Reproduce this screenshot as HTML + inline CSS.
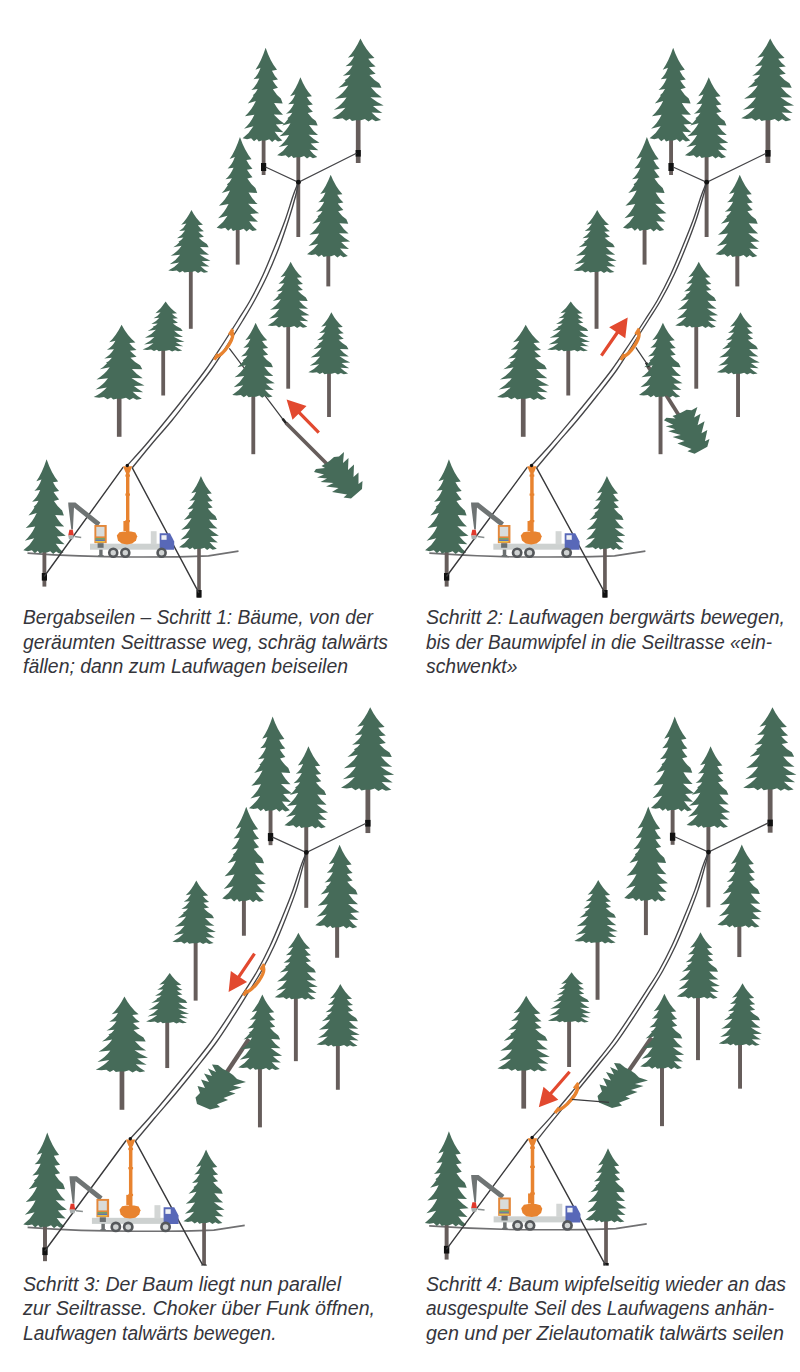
<!DOCTYPE html>
<html lang="de">
<head>
<meta charset="utf-8">
<title>Bergabseilen – Schritte 1 bis 4</title>
<style>
html,body{margin:0;padding:0;background:#fff}
body{width:800px;height:1372px;overflow:hidden}
svg{display:block}
svg text{font-family:"Liberation Sans",sans-serif;font-style:italic;font-size:20px;fill:#35353b}
</style>
</head>
<body>
<svg width="800" height="1372" viewBox="0 0 800 1372">
<rect width="800" height="1372" fill="#fff"/>
<path d="M27.5 553.2Q80 557 130 557 Q185 557 208.5 555.8 L238.5 551.2" fill="none" stroke="#707072" stroke-width="1.7"/><rect x="261.71" y="137.9" width="3.79" height="37.1" fill="#665d5b"/><rect x="261" y="163" width="5.2" height="8" fill="#111"/><path d="M265.63 47.7Q270.2 61.3 277.02 69.86L271.94 70.67Q274.7 76.41 277.97 79.44L272.52 80.44Q275.43 84.98 277.97 87.8L272.89 89.21Q276.52 95.05 280.87 98.58L282.69 103.62L274.12 103.11Q278.33 110.67 283.05 114.7L273.76 114.4Q279.06 120.24 284.5 123.77L275.79 124.47Q279.78 129.31 283.41 132.33L274.7 131.83Q278.33 137.37 282.32 140.39L277.97 141.6L275.06 139.58L272.16 141.9L269.26 139.18L265.99 140.59L261.64 140.59L258.73 141.4L256.92 138.88L254.01 141.19L251.11 138.37L247.12 139.18L242.62 138.37Q249.3 133.34 253.43 126.28L244.07 128.8Q250.38 123.26 254.38 114.7L244.94 116.21Q251.84 110.16 255.83 101.1L247.7 103.62Q250.75 100.59 253.65 95.86L252.78 95.25Q255.83 93.04 257.64 89.01L251.33 90.01Q256.19 85.98 259.31 78.43L253.51 79.13Q258.01 75.41 260.55 67.85L255.47 69.66Q261.27 61.3 265.63 47.7Z" fill="#466b59"/><rect x="355.86" y="117.4" width="4.67" height="45.6" fill="#665d5b"/><rect x="355.6" y="150" width="5.2" height="6.6" fill="#111"/><path d="M360.43 38.5Q366.07 50.47 374.48 58.01L368.22 58.72Q371.62 63.77 375.65 66.43L368.94 67.32Q372.51 71.31 375.65 73.79L369.38 75.03Q373.86 80.17 379.23 83.27L381.46 87.71L370.9 87.26Q376.09 93.91 381.91 97.46L370.46 97.19Q376.99 102.34 383.7 105.44L372.96 106.06Q377.88 110.32 382.36 112.98L371.62 112.53Q376.09 117.41 381.02 120.07L375.65 121.13L372.07 119.36L368.49 121.4L364.91 119.01L360.88 120.25L355.51 120.25L351.93 120.96L349.7 118.74L346.12 120.78L342.54 118.3L337.62 119.01L332.07 118.3Q340.3 113.86 345.4 107.66L333.86 109.87Q341.64 105 346.56 97.46L334.93 98.79Q343.43 93.47 348.35 85.49L338.33 87.71Q342.09 85.05 345.67 80.88L344.6 80.35Q348.35 78.4 350.59 74.85L342.81 75.74Q348.8 72.19 352.65 65.54L345.49 66.16Q351.04 62.88 354.17 56.23L347.91 57.83Q355.07 50.47 360.43 38.5Z" fill="#466b59"/><rect x="296.38" y="154.4" width="3.83" height="82.6" fill="#665d5b"/><path d="M300.4 77.2Q305.03 88.92 311.93 96.31L306.79 97Q309.58 101.95 312.89 104.56L307.38 105.42Q310.32 109.33 312.89 111.76L307.75 112.98Q311.42 118.02 315.83 121.06L317.66 125.4L309 124.96Q313.26 131.48 318.03 134.95L308.63 134.69Q313.99 139.73 319.5 142.77L310.69 143.38Q314.73 147.54 318.4 150.15L309.58 149.72Q313.26 154.49 317.3 157.1L312.89 158.14L309.95 156.4L307.01 158.4L304.08 156.06L300.77 157.27L296.36 157.27L293.43 157.97L291.59 155.79L288.65 157.79L285.71 155.36L281.67 156.06L277.12 155.36Q283.88 151.02 288.06 144.94L278.59 147.11Q284.98 142.33 289.02 134.95L279.47 136.25Q286.45 131.04 290.49 123.23L282.26 125.4Q285.35 122.79 288.28 118.71L287.4 118.19Q290.49 116.28 292.32 112.81L285.93 113.67Q290.86 110.2 294.01 103.69L288.14 104.3Q292.69 101.08 295.26 94.57L290.12 96.13Q296 88.92 300.4 77.2Z" fill="#466b59"/><rect x="235.78" y="227.4" width="3.84" height="37.2" fill="#665d5b"/><path d="M239.96 136.9Q244.6 150.54 251.52 159.14L246.36 159.94Q249.16 165.7 252.47 168.74L246.95 169.75Q249.9 174.3 252.47 177.13L247.32 178.54Q251 184.4 255.42 187.94L257.26 192.99L248.57 192.49Q252.84 200.07 257.63 204.11L248.2 203.81Q253.58 209.67 259.1 213.21L250.27 213.91Q254.31 218.77 258 221.8L249.16 221.29Q252.84 226.85 256.89 229.88L252.47 231.1L249.53 229.08L246.58 231.4L243.64 228.67L240.33 230.09L235.91 230.09L232.96 230.89L231.12 228.37L228.18 230.69L225.23 227.86L221.19 228.67L216.62 227.86Q223.39 222.81 227.59 215.73L218.09 218.26Q224.5 212.7 228.55 204.11L218.98 205.63Q225.97 199.56 230.02 190.47L221.77 192.99Q224.87 189.96 227.81 185.21L226.93 184.6Q230.02 182.38 231.86 178.34L225.46 179.35Q230.39 175.31 233.55 167.73L227.66 168.43Q232.23 164.69 234.81 157.11L229.65 158.93Q235.54 150.54 239.96 136.9Z" fill="#466b59"/><rect x="326.35" y="253.4" width="3.9" height="33" fill="#665d5b"/><path d="M330.69 174.7Q335.39 186.64 342.41 194.16L337.18 194.87Q340.02 199.91 343.38 202.56L337.78 203.45Q340.77 207.43 343.38 209.9L338.16 211.14Q341.89 216.27 346.37 219.37L348.23 223.79L339.42 223.35Q343.75 229.98 348.61 233.52L339.05 233.25Q344.5 238.38 350.1 241.48L341.14 242.1Q345.25 246.34 348.98 249L340.02 248.56Q343.75 253.42 347.86 256.07L343.38 257.13L340.39 255.37L337.41 257.4L334.42 255.01L331.06 256.25L326.58 256.25L323.6 256.96L321.73 254.75L318.74 256.78L315.76 254.3L311.65 255.01L307.02 254.3Q313.89 249.88 318.15 243.69L308.52 245.9Q315.01 241.04 319.12 233.52L309.41 234.85Q316.51 229.54 320.61 221.58L312.25 223.79Q315.39 221.14 318.37 216.98L317.48 216.45Q320.61 214.5 322.48 210.96L315.98 211.85Q320.98 208.31 324.19 201.68L318.22 202.3Q322.85 199.02 325.46 192.39L320.24 193.98Q326.21 186.64 330.69 174.7Z" fill="#466b59"/><rect x="188.89" y="268.9" width="3.82" height="59.9" fill="#665d5b"/><path d="M191.45 210Q196.06 219.08 202.95 224.8L197.82 225.34Q200.61 229.17 203.91 231.19L198.41 231.86Q201.34 234.89 203.91 236.77L198.78 237.72Q202.44 241.62 206.84 243.97L208.67 247.34L200.02 247Q204.27 252.05 209.03 254.74L199.66 254.53Q205 258.44 210.5 260.79L201.71 261.26Q205.74 264.49 209.4 266.51L200.61 266.17Q204.27 269.87 208.3 271.89L203.91 272.7L200.97 271.35L198.04 272.9L195.11 271.08L191.81 272.03L187.42 272.03L184.49 272.56L182.66 270.88L179.72 272.43L176.79 270.55L172.76 271.08L168.22 270.55Q174.96 267.18 179.14 262.47L169.69 264.15Q176.06 260.45 180.09 254.74L170.56 255.75Q177.53 251.71 181.56 245.65L173.35 247.34Q176.43 245.32 179.36 242.16L178.48 241.75Q181.56 240.27 183.39 237.58L177.01 238.25Q181.92 235.56 185.07 230.52L179.21 230.99Q183.75 228.5 186.32 223.45L181.19 224.67Q187.05 219.08 191.45 210Z" fill="#466b59"/><rect x="286.31" y="323.9" width="3.79" height="64.8" fill="#665d5b"/><path d="M290.63 261.7Q295.2 271.26 302.02 277.28L296.94 277.84Q299.7 281.88 302.97 284L297.52 284.71Q300.43 287.9 302.97 289.88L297.89 290.87Q301.52 294.98 305.87 297.46L307.69 301L299.12 300.64Q303.33 305.95 308.05 308.78L298.76 308.57Q304.06 312.68 309.5 315.16L300.79 315.65Q304.78 319.05 308.41 321.17L299.7 320.82Q303.33 324.71 307.32 326.84L302.97 327.69L300.06 326.27L297.16 327.9L294.26 325.99L290.99 326.98L286.64 326.98L283.73 327.55L281.92 325.78L279.01 327.4L276.11 325.42L272.12 325.99L267.62 325.42Q274.3 321.88 278.43 316.93L269.07 318.7Q275.38 314.8 279.38 308.78L269.94 309.85Q276.84 305.6 280.83 299.23L272.7 301Q275.75 298.87 278.65 295.54L277.78 295.12Q280.83 293.56 282.64 290.73L276.33 291.44Q281.19 288.6 284.31 283.29L278.51 283.79Q283.01 281.17 285.55 275.86L280.47 277.13Q286.27 271.26 290.63 261.7Z" fill="#466b59"/><rect x="327.1" y="370.5" width="3.8" height="46.5" fill="#665d5b"/><path d="M331.38 312.3Q335.97 321.28 342.81 326.94L337.71 327.47Q340.48 331.26 343.75 333.26L338.29 333.92Q341.21 336.91 343.75 338.78L338.66 339.71Q342.3 343.57 346.66 345.89L348.48 349.22L339.9 348.89Q344.12 353.88 348.84 356.54L339.53 356.34Q344.84 360.2 350.3 362.53L341.57 362.99Q345.57 366.18 349.21 368.18L340.48 367.85Q344.12 371.51 348.12 373.5L343.75 374.3L340.84 372.97L337.93 374.5L335.02 372.7L331.75 373.64L327.38 373.64L324.47 374.17L322.65 372.5L319.74 374.03L316.83 372.17L312.83 372.7L308.32 372.17Q315.01 368.85 319.16 364.19L309.77 365.85Q316.1 362.19 320.11 356.54L310.65 357.54Q317.56 353.54 321.56 347.56L313.41 349.22Q316.47 347.23 319.38 344.1L318.5 343.7Q321.56 342.24 323.38 339.57L317.05 340.24Q321.92 337.58 325.05 332.59L319.23 333.06Q323.74 330.59 326.29 325.6L321.2 326.8Q327.02 321.28 331.38 312.3Z" fill="#466b59"/><rect x="161.31" y="347.4" width="3.79" height="48.1" fill="#665d5b"/><path d="M165.63 301.5Q170.2 308.7 177.02 313.24L171.94 313.67Q174.7 316.71 177.97 318.31L172.52 318.84Q175.43 321.25 177.97 322.74L172.89 323.49Q176.52 326.58 180.87 328.45L182.69 331.12L174.12 330.85Q178.33 334.86 183.05 336.99L173.76 336.83Q179.06 339.93 184.5 341.79L175.79 342.17Q179.78 344.73 183.41 346.33L174.7 346.06Q178.33 349 182.32 350.6L177.97 351.24L175.06 350.17L172.16 351.4L169.26 349.96L165.99 350.71L161.64 350.71L158.73 351.13L156.92 349.8L154.01 351.03L151.11 349.53L147.12 349.96L142.62 349.53Q149.3 346.86 153.43 343.13L144.07 344.46Q150.38 341.53 154.38 336.99L144.94 337.79Q151.84 334.59 155.83 329.79L147.7 331.12Q150.75 329.52 153.65 327.01L152.78 326.69Q155.83 325.52 157.64 323.38L151.33 323.91Q156.19 321.78 159.31 317.78L153.51 318.15Q158.01 316.18 160.55 312.17L155.47 313.13Q161.27 308.7 165.63 301.5Z" fill="#466b59"/><rect x="116.9" y="395.9" width="4.6" height="40.9" fill="#665d5b"/><path d="M121.59 324.7Q127.14 335.56 135.43 342.39L129.26 343.04Q132.61 347.62 136.57 350.03L129.96 350.84Q133.49 354.46 136.57 356.71L130.4 357.84Q134.81 362.5 140.09 365.32L142.3 369.34L131.9 368.94Q137.01 374.97 142.74 378.18L131.46 377.94Q137.89 382.61 144.5 385.42L133.93 385.99Q138.77 389.85 143.18 392.26L132.61 391.86Q137.01 396.28 141.86 398.69L136.57 399.66L133.05 398.05L129.52 399.9L126 397.73L122.03 398.85L116.75 398.85L113.22 399.5L111.02 397.49L107.5 399.34L103.97 397.09L99.13 397.73L93.66 397.09Q101.77 393.06 106.79 387.43L95.43 389.44Q103.09 385.02 107.94 378.18L96.48 379.39Q104.85 374.57 109.7 367.33L99.83 369.34Q103.53 366.92 107.06 363.14L106 362.66Q109.7 360.89 111.9 357.68L104.24 358.48Q110.14 355.26 113.93 349.23L106.88 349.79Q112.34 346.82 115.43 340.79L109.26 342.23Q116.31 335.56 121.59 324.7Z" fill="#466b59"/><path d="M229.3 348.3L283.7 420.3" stroke="#3b3b3d" stroke-width="1.2" fill="none" stroke-linecap="butt"/><rect x="251.37" y="393.7" width="3.85" height="60.5" fill="#665d5b"/><path d="M255.61 322.7Q260.26 333.53 267.2 340.35L262.03 340.99Q264.84 345.56 268.16 347.97L262.62 348.77Q265.58 352.38 268.16 354.63L262.99 355.75Q266.68 360.4 271.11 363.21L272.96 367.22L264.25 366.82Q268.53 372.83 273.32 376.04L263.88 375.8Q269.27 380.45 274.8 383.26L265.94 383.82Q270 387.67 273.69 390.08L264.84 389.68Q268.53 394.09 272.59 396.5L268.16 397.46L265.21 395.86L262.26 397.7L259.3 395.53L255.98 396.66L251.56 396.66L248.6 397.3L246.76 395.29L243.81 397.14L240.86 394.89L236.8 395.53L232.22 394.89Q239.01 390.88 243.22 385.27L233.7 387.27Q240.12 382.86 244.18 376.04L234.58 377.25Q241.59 372.43 245.65 365.21L237.39 367.22Q240.49 364.81 243.44 361.04L242.55 360.56Q245.65 358.8 247.5 355.59L241.08 356.39Q246.02 353.18 249.19 347.17L243.29 347.73Q247.87 344.76 250.45 338.74L245.28 340.19Q251.19 333.53 255.61 322.7Z" fill="#466b59"/><rect x="42.48" y="549.9" width="3.83" height="36.7" fill="#665d5b"/><rect x="41.8" y="573" width="5.2" height="7.6" fill="#111"/><path d="M46.6 459.2Q51.23 472.87 58.13 481.48L52.99 482.29Q55.78 488.07 59.09 491.1L53.58 492.12Q56.52 496.67 59.09 499.51L53.95 500.93Q57.62 506.8 62.03 510.35L63.86 515.41L55.2 514.91Q59.46 522.5 64.23 526.55L54.83 526.25Q60.19 532.12 65.7 535.67L56.89 536.38Q60.93 541.24 64.6 544.28L55.78 543.77Q59.46 549.34 63.5 552.38L59.09 553.6L56.15 551.57L53.21 553.9L50.28 551.17L46.97 552.58L42.56 552.58L39.63 553.39L37.79 550.86L34.85 553.19L31.91 550.36L27.87 551.17L23.32 550.36Q30.08 545.29 34.26 538.2L24.79 540.73Q31.18 535.16 35.22 526.55L25.67 528.07Q32.65 522 36.69 512.88L28.46 515.41Q31.55 512.37 34.48 507.61L33.6 507.01Q36.69 504.78 38.52 500.73L32.13 501.74Q37.06 497.69 40.21 490.09L34.34 490.8Q38.89 487.05 41.46 479.46L36.32 481.28Q42.2 472.87 46.6 459.2Z" fill="#466b59"/><rect x="197.2" y="545.9" width="3.61" height="51.7" fill="#665d5b"/><rect x="196.4" y="590" width="5.2" height="7.6" fill="#111"/><path d="M200.92 476.1Q205.28 486.76 211.78 493.46L206.94 494.1Q209.57 498.6 212.68 500.96L207.49 501.75Q210.26 505.3 212.68 507.51L207.84 508.62Q211.29 513.2 215.44 515.96L217.17 519.91L209.01 519.51Q213.02 525.43 217.52 528.59L208.67 528.35Q213.71 532.93 218.9 535.69L210.6 536.25Q214.41 540.03 217.86 542.4L209.57 542.01Q213.02 546.35 216.83 548.72L212.68 549.66L209.91 548.08L207.15 549.9L204.38 547.77L201.27 548.87L197.12 548.87L194.36 549.51L192.63 547.53L189.86 549.35L187.1 547.14L183.29 547.77L179.01 547.14Q185.37 543.19 189.31 537.67L180.39 539.64Q186.41 535.3 190.21 528.59L181.22 529.77Q187.79 525.04 191.59 517.93L183.85 519.91Q186.75 517.54 189.52 513.83L188.69 513.36Q191.59 511.62 193.32 508.46L187.3 509.25Q191.94 506.09 194.91 500.17L189.38 500.73Q193.66 497.81 196.08 491.89L191.24 493.31Q196.78 486.76 200.92 476.1Z" fill="#466b59"/><path d="M298.2 182.6C297.33 184.83 295.17 189.77 293 196C290.83 202.23 288.28 211.42 285.2 220C282.12 228.58 278.2 238.33 274.5 247.5C270.8 256.67 267.02 266.25 263 275C258.98 283.75 254.55 292.5 250.4 300C246.25 307.5 242.8 312.5 238.1 320C233.4 327.5 227.63 336.67 222.2 345C216.77 353.33 211.48 361.67 205.5 370C199.52 378.33 192.83 386.67 186.3 395C179.77 403.33 173.08 411.67 166.3 420C159.52 428.33 152.1 437.43 145.6 445C139.1 452.57 130.35 462 127.3 465.4" fill="none" stroke="#454548" stroke-width="1.35"/><path d="M298.6 182.6C298.1 184.83 297.28 189.77 295.6 196C293.92 202.23 291.27 211.42 288.5 220C285.73 228.58 282.5 238.33 279 247.5C275.5 256.67 271.53 266.25 267.5 275C263.47 283.75 258.87 292.5 254.8 300C250.73 307.5 247.67 312.5 243.1 320C238.53 327.5 232.77 336.67 227.4 345C222.03 353.33 216.85 361.67 210.9 370C204.95 378.33 198.13 386.67 191.7 395C185.27 403.33 179.1 411.67 172.3 420C165.5 428.33 157.53 437.08 150.9 445C144.27 452.92 135.57 463.75 132.5 467.5" fill="none" stroke="#454548" stroke-width="1.35"/><path d="M265.5 167L298.4 182.2L356.5 153.3" fill="none" stroke="#454548" stroke-width="1.25"/><circle cx="298.4" cy="182.2" r="2.4" fill="#111"/><path d="M44.2 576.5L123.2 467.2M132 467.4L198.9 592.8" fill="none" stroke="#38383a" stroke-width="1.4"/><path d="M68.2 502.6L75.4 502.6L100.4 522.6L97.6 526.6L74 507.6L72.9 529.6L71.3 529.6L68.4 506Z" fill="#6f7474"/><path d="M68.2 535.6L69.4 529.8L72.8 529.8L73.8 535.6Z" fill="#e0392c"/><path d="M68.2 535.4L73.8 535.4L73.2 539.2L69 539.2Z" fill="#a9afaf"/><path d="M74.6 536.6L81.2 537.4" stroke="#8a9090" stroke-width="1.5"/><rect x="94.4" y="525" width="12.3" height="18.2" fill="#e3873a"/><rect x="96.3" y="526.9" width="8.2" height="9.5" fill="#d9dcdb"/><rect x="95.4" y="538" width="9.4" height="1.6" fill="#71a56c"/><rect x="95.4" y="539.6" width="9.4" height="1.4" fill="#5a78b6"/><rect x="95.4" y="541" width="9.4" height="1.4" fill="#e8c24a"/><rect x="99.2" y="547" width="3.4" height="9.4" fill="#6b6f70"/><rect x="98.2" y="555" width="5.4" height="1.6" fill="#6b6f70"/><rect x="90" y="543.7" width="70.4" height="6" fill="#cdd1d0"/><rect x="97.6" y="543.2" width="6" height="4.6" fill="#6b6f70"/><rect x="150.8" y="531.2" width="5.8" height="13.2" fill="#d3d6d5"/><path d="M159.7 549.8L159.7 533.2L170 533.2L174.2 541.4L174.2 549.8Z" fill="#5868b8"/><path d="M161.4 535.2L166.6 535.2L166.6 539.8L161.4 539.8Z" fill="#eef0f4"/><ellipse cx="113.25" cy="552.7" rx="5.3" ry="5.3" fill="#55585b"/><ellipse cx="113.25" cy="552.7" rx="2.7" ry="2.7" fill="#d0d3d3"/><ellipse cx="125.3" cy="552.7" rx="5.3" ry="5.3" fill="#55585b"/><ellipse cx="125.3" cy="552.7" rx="2.7" ry="2.7" fill="#d0d3d3"/><ellipse cx="161.6" cy="552.7" rx="5.3" ry="5.3" fill="#55585b"/><ellipse cx="161.6" cy="552.7" rx="2.7" ry="2.7" fill="#d0d3d3"/><rect x="126" y="467" width="3.4" height="67" fill="#e8832f"/><path d="M123 466.2L132.2 466.2L129.8 472.6L125.6 472.6Z" fill="#e8832f"/><rect x="125.4" y="474.5" width="4.6" height="2.2" fill="#e8832f"/><rect x="125.4" y="493.5" width="4.6" height="2.2" fill="#e8832f"/><rect x="125.4" y="520" width="4.6" height="2.2" fill="#e8832f"/><rect x="123.4" y="521" width="3.6" height="10" fill="#e8832f"/><path d="M116.8 535.6L119.4 532.2L124 531.4L131 531.4L135.4 532.6L137.2 536.2L136 540.4L132.2 543.6L127 544.4L121.6 543.6L118 540.4Z" fill="#e8832f"/><circle cx="127.3" cy="465.5" r="1.7" fill="#111"/><path d="M231 331C236.75 336.2 224.34 354.54 215.25 357.25" fill="none" stroke="#e8832f" stroke-width="3.4" stroke-linecap="butt"/><path d="M232.85 329.08L229.35 334.91" stroke="#e8832f" stroke-width="3.2" stroke-linecap="butt"/><path d="M214.43 359.79L217.93 353.96" stroke="#e8832f" stroke-width="3.2" stroke-linecap="butt"/><path d="M282.6 418.8L286.4 423.6" stroke="#222" stroke-width="2.6" fill="none" stroke-linecap="butt"/><path d="M286 423L328.5 465.5" stroke="#665d5b" stroke-width="3.8" fill="none" stroke-linecap="butt"/><polygon points="326.5,463 330,460.5 334,457 339,456.5 344,452 343,463 348.5,458 348,470 354,464.5 353.5,477 358.5,472.5 358.5,484 362.5,481 362,489 351,498.5 343.5,497.5 347,494.5 332,492 338.5,488 326,486.5 333.5,483 320.5,482 327,478.5 317,477.5 324,474.5 314,472 316,469 325,468 321.5,466" fill="#466b59"/><polygon points="286.6,399.6 306.53,406 300.67,411.72 319.95,431.48 317.65,433.72 298.37,413.96 292.51,419.69" fill="#e2492f"/><path d="M429.35 553.2Q483.1 557 534.29 557 Q590.6 557 614.66 555.8 L645.38 551.2" fill="none" stroke="#707072" stroke-width="1.7"/><rect x="669.13" y="137.9" width="3.88" height="37.1" fill="#665d5b"/><rect x="668.41" y="163" width="5.32" height="8" fill="#111"/><path d="M673.15 47.7Q677.83 61.3 684.82 69.86L679.61 70.67Q682.44 76.41 685.78 79.44L680.21 80.44Q683.18 84.98 685.78 87.8L680.58 89.21Q684.3 95.05 688.76 98.58L690.61 103.62L681.84 103.11Q686.15 110.67 690.98 114.7L681.47 114.4Q686.9 120.24 692.47 123.77L683.55 124.47Q687.64 129.31 691.36 132.33L682.44 131.83Q686.15 137.37 690.24 140.39L685.78 141.6L682.81 139.58L679.84 141.9L676.87 139.18L673.52 140.59L669.06 140.59L666.09 141.4L664.23 138.88L661.26 141.19L658.29 138.37L654.2 139.18L649.59 138.37Q656.43 133.34 660.66 126.28L651.08 128.8Q657.54 123.26 661.63 114.7L651.97 116.21Q659.03 110.16 663.12 101.1L654.79 103.62Q657.92 100.59 660.89 95.86L660 95.25Q663.12 93.04 664.98 89.01L658.51 90.01Q663.49 85.98 666.68 78.43L660.74 79.13Q665.35 75.41 667.95 67.85L662.75 69.66Q668.69 61.3 673.15 47.7Z" fill="#466b59"/><rect x="765.53" y="117.4" width="4.78" height="45.6" fill="#665d5b"/><rect x="765.26" y="150" width="5.32" height="6.6" fill="#111"/><path d="M770.21 38.5Q775.98 50.47 784.6 58.01L778.18 58.72Q781.66 63.77 785.79 66.43L778.92 67.32Q782.58 71.31 785.79 73.79L779.37 75.03Q783.95 80.17 789.45 83.27L791.74 87.71L780.93 87.26Q786.25 93.91 792.2 97.46L780.47 97.19Q787.16 102.34 794.03 105.44L783.04 106.06Q788.08 110.32 792.66 112.98L781.66 112.53Q786.25 117.41 791.28 120.07L785.79 121.13L782.12 119.36L778.46 121.4L774.79 119.01L770.67 120.25L765.17 120.25L761.51 120.96L759.22 118.74L755.55 120.78L751.89 118.3L746.85 119.01L741.17 118.3Q749.6 113.86 754.82 107.66L743 109.87Q750.97 105 756.01 97.46L744.1 98.79Q752.81 93.47 757.85 85.49L747.58 87.71Q751.43 85.05 755.1 80.88L754 80.35Q757.85 78.4 760.14 74.85L752.17 75.74Q758.3 72.19 762.24 65.54L754.91 66.16Q760.59 62.88 763.8 56.23L757.39 57.83Q764.72 50.47 770.21 38.5Z" fill="#466b59"/><rect x="704.64" y="154.4" width="3.93" height="82.6" fill="#665d5b"/><path d="M708.75 77.2Q713.49 88.92 720.56 96.31L715.3 97Q718.15 101.95 721.54 104.56L715.9 105.42Q718.9 109.33 721.54 111.76L716.27 112.98Q720.03 118.02 724.54 121.06L726.42 125.4L717.55 124.96Q721.91 131.48 726.8 134.95L717.18 134.69Q722.66 139.73 728.3 142.77L719.28 143.38Q723.42 147.54 727.18 150.15L718.15 149.72Q721.91 154.49 726.05 157.1L721.54 158.14L718.53 156.4L715.52 158.4L712.51 156.06L709.13 157.27L704.62 157.27L701.61 157.97L699.73 155.79L696.72 157.79L693.71 155.36L689.58 156.06L684.92 155.36Q691.83 151.02 696.12 144.94L686.42 147.11Q692.96 142.33 697.1 134.95L687.32 136.25Q694.47 131.04 698.6 123.23L690.18 125.4Q693.34 122.79 696.35 118.71L695.44 118.19Q698.6 116.28 700.48 112.81L693.94 113.67Q698.98 110.2 702.21 103.69L696.2 104.3Q700.86 101.08 703.49 94.57L698.23 96.13Q704.24 88.92 708.75 77.2Z" fill="#466b59"/><rect x="642.59" y="227.4" width="3.93" height="37.2" fill="#665d5b"/><path d="M646.87 136.9Q651.62 150.54 658.7 159.14L653.43 159.94Q656.29 165.7 659.68 168.74L654.03 169.75Q657.04 174.3 659.68 177.13L654.41 178.54Q658.18 184.4 662.7 187.94L664.58 192.99L655.69 192.49Q660.06 200.07 664.96 204.11L655.31 203.81Q660.81 209.67 666.47 213.21L657.42 213.91Q661.57 218.77 665.34 221.8L656.29 221.29Q660.06 226.85 664.21 229.88L659.68 231.1L656.67 229.08L653.65 231.4L650.64 228.67L647.25 230.09L642.72 230.09L639.71 230.89L637.82 228.37L634.81 230.69L631.8 227.86L627.65 228.67L622.98 227.86Q629.91 222.81 634.21 215.73L624.48 218.26Q631.04 212.7 635.19 204.11L625.39 205.63Q632.55 199.56 636.69 190.47L628.25 192.99Q631.42 189.96 634.43 185.21L633.53 184.6Q636.69 182.38 638.58 178.34L632.02 179.35Q637.07 175.31 640.31 167.73L634.28 168.43Q638.96 164.69 641.59 157.11L636.32 158.93Q642.35 150.54 646.87 136.9Z" fill="#466b59"/><rect x="735.32" y="253.4" width="3.99" height="33" fill="#665d5b"/><path d="M739.76 174.7Q744.58 186.64 751.76 194.16L746.41 194.87Q749.31 199.91 752.75 202.56L747.02 203.45Q750.08 207.43 752.75 209.9L747.4 211.14Q751.22 216.27 755.81 219.37L757.72 223.79L748.7 223.35Q753.14 229.98 758.1 233.52L748.32 233.25Q753.9 238.38 759.63 241.48L750.46 242.1Q754.66 246.34 758.49 249L749.31 248.56Q753.14 253.42 757.34 256.07L752.75 257.13L749.7 255.37L746.64 257.4L743.58 255.01L740.14 256.25L735.56 256.25L732.5 256.96L730.59 254.75L727.53 256.78L724.47 254.3L720.27 255.01L715.53 254.3Q722.56 249.88 726.92 243.69L717.06 245.9Q723.71 241.04 727.91 233.52L717.98 234.85Q725.24 229.54 729.44 221.58L720.88 223.79Q724.09 221.14 727.15 216.98L726.23 216.45Q729.44 214.5 731.35 210.96L724.7 211.85Q729.82 208.31 733.11 201.68L727 202.3Q731.73 199.02 734.41 192.39L729.06 193.98Q735.17 186.64 739.76 174.7Z" fill="#466b59"/><rect x="594.58" y="268.9" width="3.92" height="59.9" fill="#665d5b"/><path d="M597.2 210Q601.93 219.08 608.98 224.8L603.73 225.34Q606.58 229.17 609.96 231.19L604.33 231.86Q607.33 234.89 609.96 236.77L604.71 237.72Q608.46 241.62 612.96 243.97L614.83 247.34L605.98 247Q610.33 252.05 615.21 254.74L605.61 254.53Q611.08 258.44 616.71 260.79L607.71 261.26Q611.83 264.49 615.58 266.51L606.58 266.17Q610.33 269.87 614.46 271.89L609.96 272.7L606.96 271.35L603.96 272.9L600.96 271.08L597.58 272.03L593.08 272.03L590.08 272.56L588.2 270.88L585.2 272.43L582.2 270.55L578.07 271.08L573.42 270.55Q580.33 267.18 584.6 262.47L574.92 264.15Q581.45 260.45 585.58 254.74L575.82 255.75Q582.95 251.71 587.08 245.65L578.67 247.34Q581.83 245.32 584.83 242.16L583.93 241.75Q587.08 240.27 588.95 237.58L582.43 238.25Q587.45 235.56 590.68 230.52L584.68 230.99Q589.33 228.5 591.95 223.45L586.7 224.67Q592.7 219.08 597.2 210Z" fill="#466b59"/><rect x="694.32" y="323.9" width="3.88" height="64.8" fill="#665d5b"/><path d="M698.74 261.7Q703.43 271.26 710.41 277.28L705.21 277.84Q708.03 281.88 711.38 284L705.8 284.71Q708.78 287.9 711.38 289.88L706.18 290.87Q709.89 294.98 714.35 297.46L716.21 301L707.44 300.64Q711.75 305.95 716.58 308.78L707.07 308.57Q712.49 312.68 718.07 315.16L709.15 315.65Q713.24 319.05 716.95 321.17L708.03 320.82Q711.75 324.71 715.84 326.84L711.38 327.69L708.41 326.27L705.43 327.9L702.46 325.99L699.12 326.98L694.66 326.98L691.68 327.55L689.83 325.78L686.85 327.4L683.88 325.42L679.79 325.99L675.19 325.42Q682.02 321.88 686.26 316.93L676.67 318.7Q683.14 314.8 687.23 308.78L677.57 309.85Q684.62 305.6 688.71 299.23L680.39 301Q683.51 298.87 686.48 295.54L685.59 295.12Q688.71 293.56 690.57 290.73L684.1 291.44Q689.08 288.6 692.28 283.29L686.33 283.79Q690.94 281.17 693.54 275.86L688.34 277.13Q694.29 271.26 698.74 261.7Z" fill="#466b59"/><rect x="736.09" y="370.5" width="3.89" height="46.5" fill="#665d5b"/><path d="M740.47 312.3Q745.16 321.28 752.16 326.94L746.95 327.47Q749.78 331.26 753.13 333.26L747.55 333.92Q750.53 336.91 753.13 338.78L747.92 339.71Q751.64 343.57 756.11 345.89L757.97 349.22L749.19 348.89Q753.51 353.88 758.35 356.54L748.81 356.34Q754.25 360.2 759.84 362.53L750.9 362.99Q755 366.18 758.72 368.18L749.78 367.85Q753.51 371.51 757.6 373.5L753.13 374.3L750.15 372.97L747.17 374.5L744.19 372.7L740.84 373.64L736.37 373.64L733.39 374.17L731.53 372.5L728.55 374.03L725.57 372.17L721.47 372.7L716.86 372.17Q723.71 368.85 727.96 364.19L718.35 365.85Q724.83 362.19 728.92 356.54L719.24 357.54Q726.32 353.54 730.41 347.56L722.07 349.22Q725.2 347.23 728.18 344.1L727.28 343.7Q730.41 342.24 732.28 339.57L725.8 340.24Q730.79 337.58 733.99 332.59L728.03 333.06Q732.65 330.59 735.26 325.6L730.04 326.8Q736 321.28 740.47 312.3Z" fill="#466b59"/><rect x="566.34" y="347.4" width="3.88" height="48.1" fill="#665d5b"/><path d="M570.77 301.5Q575.45 308.7 582.44 313.24L577.23 313.67Q580.06 316.71 583.4 318.31L577.83 318.84Q580.8 321.25 583.4 322.74L578.2 323.49Q581.92 326.58 586.38 328.45L588.23 331.12L579.46 330.85Q583.77 334.86 588.6 336.99L579.09 336.83Q584.52 339.93 590.09 341.79L581.17 342.17Q585.26 344.73 588.98 346.33L580.06 346.06Q583.77 349 587.86 350.6L583.4 351.24L580.43 350.17L577.46 351.4L574.49 349.96L571.14 350.71L566.68 350.71L563.71 351.13L561.85 349.8L558.88 351.03L555.91 349.53L551.82 349.96L547.21 349.53Q554.05 346.86 558.28 343.13L548.7 344.46Q555.16 341.53 559.25 336.99L549.59 337.79Q556.65 334.59 560.74 329.79L552.41 331.12Q555.54 329.52 558.51 327.01L557.62 326.69Q560.74 325.52 562.6 323.38L556.13 323.91Q561.11 321.78 564.3 317.78L558.36 318.15Q562.97 316.18 565.57 312.17L560.37 313.13Q566.31 308.7 570.77 301.5Z" fill="#466b59"/><rect x="520.88" y="395.9" width="4.71" height="40.9" fill="#665d5b"/><path d="M525.69 324.7Q531.37 335.56 539.85 342.39L533.53 343.04Q536.96 347.62 541.02 350.03L534.26 350.84Q537.86 354.46 541.02 356.71L534.71 357.84Q539.22 362.5 544.63 365.32L546.88 369.34L536.24 368.94Q541.47 374.97 547.34 378.18L535.79 377.94Q542.37 382.61 549.14 385.42L538.32 385.99Q543.28 389.85 547.79 392.26L536.96 391.86Q541.47 396.28 546.43 398.69L541.02 399.66L537.41 398.05L533.81 399.9L530.2 397.73L526.14 398.85L520.73 398.85L517.12 399.5L514.86 397.49L511.25 399.34L507.65 397.09L502.69 397.73L497.09 397.09Q505.39 393.06 510.53 387.43L498.9 389.44Q506.74 385.02 511.71 378.18L499.98 379.39Q508.55 374.57 513.51 367.33L503.41 369.34Q507.2 366.92 510.8 363.14L509.72 362.66Q513.51 360.89 515.76 357.68L507.92 358.48Q513.96 355.26 517.84 349.23L510.62 349.79Q516.22 346.82 519.37 340.79L513.06 342.23Q520.28 335.56 525.69 324.7Z" fill="#466b59"/><path d="M647.5 365.4L679 415.6" stroke="#665d5b" stroke-width="3.8" fill="none" stroke-linecap="butt"/><path d="M646 362.6L648.6 367" stroke="#222" stroke-width="2.4" fill="none" stroke-linecap="butt"/><rect x="658.56" y="393.7" width="3.94" height="60.5" fill="#665d5b"/><path d="M662.9 322.7Q667.66 333.53 674.76 340.35L669.47 340.99Q672.34 345.56 675.74 347.97L670.07 348.77Q673.1 352.38 675.74 354.63L670.45 355.75Q674.23 360.4 678.76 363.21L680.65 367.22L671.74 366.82Q676.12 372.83 681.03 376.04L671.36 375.8Q676.87 380.45 682.54 383.26L673.47 383.82Q677.63 387.67 681.41 390.08L672.34 389.68Q676.12 394.09 680.27 396.5L675.74 397.46L672.72 395.86L669.7 397.7L666.67 395.53L663.28 396.66L658.74 396.66L655.72 397.3L653.83 395.29L650.81 397.14L647.79 394.89L643.63 395.53L638.95 394.89Q645.9 390.88 650.21 385.27L640.46 387.27Q647.03 382.86 651.19 376.04L641.37 377.25Q648.54 372.43 652.7 365.21L644.24 367.22Q647.41 364.81 650.43 361.04L649.53 360.56Q652.7 358.8 654.59 355.59L648.01 356.39Q653.08 353.18 656.32 347.17L650.28 347.73Q654.96 344.76 657.61 338.74L652.32 340.19Q658.36 333.53 662.9 322.7Z" fill="#466b59"/><rect x="444.69" y="549.9" width="3.93" height="36.7" fill="#665d5b"/><rect x="443.99" y="573" width="5.32" height="7.6" fill="#111"/><path d="M448.91 459.2Q453.65 472.87 460.72 481.48L455.45 482.29Q458.31 488.07 461.7 491.1L456.06 492.12Q459.06 496.67 461.7 499.51L456.43 500.93Q460.19 506.8 464.7 510.35L466.58 515.41L457.71 514.91Q462.07 522.5 466.96 526.55L457.33 526.25Q462.82 532.12 468.46 535.67L459.44 536.38Q463.58 541.24 467.34 544.28L458.31 543.77Q462.07 549.34 466.21 552.38L461.7 553.6L458.69 551.57L455.68 553.9L452.67 551.17L449.29 552.58L444.78 552.58L441.77 553.39L439.89 550.86L436.88 553.19L433.87 550.36L429.74 551.17L425.08 550.36Q431.99 545.29 436.28 538.2L426.58 540.73Q433.12 535.16 437.26 526.55L427.48 528.07Q434.63 522 438.76 512.88L430.34 515.41Q433.5 512.37 436.51 507.61L435.6 507.01Q438.76 504.78 440.64 500.73L434.1 501.74Q439.14 497.69 442.37 490.09L436.35 490.8Q441.02 487.05 443.65 479.46L438.39 481.28Q444.4 472.87 448.91 459.2Z" fill="#466b59"/><rect x="603.09" y="545.9" width="3.69" height="51.7" fill="#665d5b"/><rect x="602.27" y="590" width="5.32" height="7.6" fill="#111"/><path d="M606.91 476.1Q611.37 486.76 618.02 493.46L613.06 494.1Q615.75 498.6 618.94 500.96L613.63 501.75Q616.46 505.3 618.94 507.51L613.98 508.62Q617.52 513.2 621.77 515.96L623.54 519.91L615.19 519.51Q619.29 525.43 623.89 528.59L614.83 528.35Q620 532.93 625.31 535.69L616.82 536.25Q620.71 540.03 624.25 542.4L615.75 542.01Q619.29 546.35 623.19 548.72L618.94 549.66L616.11 548.08L613.28 549.9L610.45 547.77L607.26 548.87L603.01 548.87L600.18 549.51L598.41 547.53L595.58 549.35L592.75 547.14L588.86 547.77L584.47 547.14Q590.98 543.19 595.01 537.67L585.88 539.64Q592.04 535.3 595.93 528.59L586.73 529.77Q593.46 525.04 597.35 517.93L589.42 519.91Q592.4 517.54 595.23 513.83L594.38 513.36Q597.35 511.62 599.12 508.46L592.96 509.25Q597.7 506.09 600.75 500.17L595.09 500.73Q599.47 497.81 601.95 491.89L597 493.31Q602.66 486.76 606.91 476.1Z" fill="#466b59"/><path d="M706.5 182.6C705.61 184.83 703.39 189.77 701.17 196C698.96 202.23 696.34 211.42 693.19 220C690.03 228.58 686.02 238.33 682.23 247.5C678.45 256.67 674.57 266.25 670.46 275C666.35 283.75 661.81 292.5 657.56 300C653.31 307.5 649.78 312.5 644.97 320C640.15 327.5 634.25 336.67 628.69 345C623.13 353.33 617.72 361.67 611.59 370C605.47 378.33 598.62 386.67 591.93 395C585.25 403.33 578.4 411.67 571.46 420C564.51 428.33 556.92 437.43 550.27 445C543.61 452.57 534.65 462 531.53 465.4" fill="none" stroke="#454548" stroke-width="1.35"/><path d="M706.91 182.6C706.29 184.83 705.03 189.77 703.22 196C701.41 202.23 698.97 211.42 696.05 220C693.14 228.58 689.4 238.33 685.71 247.5C682.03 256.67 678.07 266.25 673.94 275C669.81 283.75 665.19 292.5 660.94 300C656.69 307.5 653.17 312.5 648.45 320C643.72 327.5 637.87 336.67 632.58 345C627.29 353.33 622.55 361.67 616.71 370C610.87 378.33 604.12 386.67 597.56 395C591.01 403.33 584.36 411.67 577.4 420C570.43 428.33 562.55 437.08 555.79 445C549.04 452.92 540.01 463.75 536.85 467.5" fill="none" stroke="#454548" stroke-width="1.35"/><path d="M673.02 167L706.7 182.2L766.18 153.3" fill="none" stroke="#454548" stroke-width="1.25"/><circle cx="706.7" cy="182.2" r="2.4" fill="#111"/><path d="M446.45 576.5L527.33 467.2M536.34 467.4L604.83 592.8" fill="none" stroke="#38383a" stroke-width="1.4"/><path d="M471.02 502.6L478.39 502.6L503.99 522.6L501.12 526.6L476.96 507.6L475.84 529.6L474.2 529.6L471.23 506Z" fill="#6f7474"/><path d="M471.02 535.6L472.25 529.8L475.73 529.8L476.76 535.6Z" fill="#e0392c"/><path d="M471.02 535.4L476.76 535.4L476.14 539.2L471.84 539.2Z" fill="#a9afaf"/><path d="M477.58 536.6L484.33 537.4" stroke="#8a9090" stroke-width="1.5"/><rect x="497.85" y="525" width="12.59" height="18.2" fill="#e3873a"/><rect x="499.79" y="526.9" width="8.4" height="9.5" fill="#d9dcdb"/><rect x="498.87" y="538" width="9.62" height="1.6" fill="#71a56c"/><rect x="498.87" y="539.6" width="9.62" height="1.4" fill="#5a78b6"/><rect x="498.87" y="541" width="9.62" height="1.4" fill="#e8c24a"/><rect x="502.76" y="547" width="3.48" height="9.4" fill="#6b6f70"/><rect x="501.74" y="555" width="5.53" height="1.6" fill="#6b6f70"/><rect x="493.34" y="543.7" width="72.08" height="6" fill="#cdd1d0"/><rect x="501.12" y="543.2" width="6.14" height="4.6" fill="#6b6f70"/><rect x="555.59" y="531.2" width="5.94" height="13.2" fill="#d3d6d5"/><path d="M564.7 549.8L564.7 533.2L575.25 533.2L579.55 541.4L579.55 549.8Z" fill="#5868b8"/><path d="M566.44 535.2L571.77 535.2L571.77 539.8L566.44 539.8Z" fill="#eef0f4"/><ellipse cx="517.15" cy="552.7" rx="5.43" ry="5.3" fill="#55585b"/><ellipse cx="517.15" cy="552.7" rx="2.76" ry="2.7" fill="#d0d3d3"/><ellipse cx="529.48" cy="552.7" rx="5.43" ry="5.3" fill="#55585b"/><ellipse cx="529.48" cy="552.7" rx="2.76" ry="2.7" fill="#d0d3d3"/><ellipse cx="566.65" cy="552.7" rx="5.43" ry="5.3" fill="#55585b"/><ellipse cx="566.65" cy="552.7" rx="2.76" ry="2.7" fill="#d0d3d3"/><rect x="530.2" y="467" width="3.48" height="67" fill="#e8832f"/><path d="M527.13 466.2L536.55 466.2L534.09 472.6L529.79 472.6Z" fill="#e8832f"/><rect x="529.58" y="474.5" width="4.71" height="2.2" fill="#e8832f"/><rect x="529.58" y="493.5" width="4.71" height="2.2" fill="#e8832f"/><rect x="529.58" y="520" width="4.71" height="2.2" fill="#e8832f"/><rect x="527.54" y="521" width="3.69" height="10" fill="#e8832f"/><path d="M520.78 535.6L523.44 532.2L528.15 531.4L535.32 531.4L539.82 532.6L541.67 536.2L540.44 540.4L536.55 543.6L531.22 544.4L525.69 543.6L522.01 540.4Z" fill="#e8832f"/><circle cx="531.53" cy="465.5" r="1.7" fill="#111"/><path d="M637.4 330.5C643.2 335.63 630.66 354.69 621.6 357.5" fill="none" stroke="#e8832f" stroke-width="3.4" stroke-linecap="butt"/><path d="M639.23 328.56L635.8 334.43" stroke="#e8832f" stroke-width="3.2" stroke-linecap="butt"/><path d="M620.8 360.05L624.24 354.18" stroke="#e8832f" stroke-width="3.2" stroke-linecap="butt"/><path d="M635.8 347.4L647 363.8" stroke="#3b3b3d" stroke-width="1.2" fill="none" stroke-linecap="butt"/><polygon points="678,414 681.94,412.28 686.58,409.69 691.58,410.24 697.4,406.88 694.14,417.43 700.56,413.68 697.57,425.32 704.59,421.18 701.5,433.31 707.33,429.95 704.93,441.19 709.47,439.09 707.32,446.81 694.58,453.82 687.46,451.28 691.5,449.07 677.35,443.51 684.54,440.95 672.63,436.88 680.69,435.02 668.18,431.34 675.27,429.27 665.69,426.21 673.16,424.73 663.9,420.2 666.48,417.69 675.49,418.58 672.49,415.89" fill="#466b59"/><polygon points="627.7,317.5 625.28,338.3 618.53,333.65 602.72,356.61 600.08,354.79 615.89,331.83 609.14,327.18" fill="#e2492f"/><path d="M27.6 1227.42Q81.62 1231.26 133.07 1231.26 Q189.66 1231.26 213.85 1230.05 L244.72 1225.4" fill="none" stroke="#707072" stroke-width="1.7"/><rect x="268.59" y="807.68" width="3.9" height="37.5" fill="#665d5b"/><rect x="267.87" y="833.04" width="5.35" height="8.09" fill="#111"/><path d="M272.63 716.51Q277.34 730.26 284.36 738.91L279.13 739.73Q281.97 745.53 285.33 748.59L279.73 749.6Q282.71 754.19 285.33 757.04L280.1 758.46Q283.83 764.37 288.32 767.93L290.18 773.02L281.37 772.52Q285.7 780.15 290.56 784.23L281 783.92Q286.45 789.83 292.05 793.39L283.09 794.1Q287.2 798.99 290.93 802.04L281.97 801.54Q285.7 807.14 289.81 810.19L285.33 811.41L282.34 809.38L279.35 811.72L276.37 808.97L273 810.39L268.52 810.39L265.54 811.21L263.67 808.66L260.68 811.01L257.69 808.15L253.58 808.97L248.95 808.15Q255.83 803.06 260.08 795.94L250.45 798.48Q256.95 792.88 261.05 784.23L251.34 785.75Q258.44 779.64 262.55 770.48L254.18 773.02Q257.32 769.97 260.31 765.18L259.41 764.57Q262.55 762.33 264.41 758.26L257.92 759.28Q262.92 755.2 266.13 747.57L260.16 748.28Q264.79 744.51 267.4 736.88L262.17 738.71Q268.15 730.26 272.63 716.51Z" fill="#466b59"/><rect x="365.48" y="786.96" width="4.81" height="46.09" fill="#665d5b"/><rect x="365.21" y="819.9" width="5.35" height="6.67" fill="#111"/><path d="M370.19 707.21Q375.99 719.31 384.64 726.93L378.2 727.64Q381.7 732.75 385.84 735.44L378.93 736.34Q382.62 740.37 385.84 742.88L379.39 744.13Q384 749.33 389.52 752.47L391.83 756.95L380.96 756.5Q386.3 763.22 392.29 766.8L380.5 766.53Q387.22 771.73 394.13 774.87L383.08 775.5Q388.14 779.8 392.75 782.49L381.7 782.04Q386.3 786.97 391.36 789.65L385.84 790.73L382.16 788.94L378.47 791L374.79 788.58L370.65 789.83L365.12 789.83L361.44 790.55L359.14 788.31L355.45 790.37L351.77 787.86L346.71 788.58L341 787.86Q349.47 783.38 354.72 777.11L342.84 779.35Q350.85 774.42 355.92 766.8L343.94 768.15Q352.69 762.77 357.76 754.71L347.44 756.95Q351.31 754.26 354.99 750.05L353.89 749.51Q357.76 747.54 360.06 743.95L352.05 744.85Q358.22 741.26 362.18 734.54L354.81 735.17Q360.52 731.86 363.74 725.13L357.3 726.75Q364.66 719.31 370.19 707.21Z" fill="#466b59"/><rect x="304.28" y="824.35" width="3.95" height="83.48" fill="#665d5b"/><path d="M308.42 746.33Q313.18 758.18 320.28 765.64L314.99 766.34Q317.86 771.34 321.26 773.97L315.6 774.85Q318.62 778.8 321.26 781.26L315.97 782.49Q319.75 787.58 324.29 790.65L326.18 795.04L317.26 794.6Q321.64 801.18 326.55 804.7L316.88 804.43Q322.4 809.52 328.07 812.6L319 813.21Q323.15 817.42 326.93 820.06L317.86 819.62Q321.64 824.45 325.8 827.08L321.26 828.13L318.24 826.38L315.22 828.39L312.19 826.02L308.79 827.25L304.26 827.25L301.24 827.96L299.35 825.76L296.32 827.78L293.3 825.32L289.14 826.02L284.46 825.32Q291.41 820.93 295.72 814.79L285.97 816.98Q292.54 812.16 296.7 804.7L286.88 806.01Q294.06 800.75 298.21 792.85L289.75 795.04Q292.92 792.41 295.94 788.28L295.04 787.76Q298.21 785.82 300.1 782.31L293.53 783.19Q298.59 779.68 301.84 773.1L295.79 773.71Q300.48 770.46 303.12 763.88L297.83 765.46Q303.88 758.18 308.42 746.33Z" fill="#466b59"/><rect x="241.92" y="898.13" width="3.95" height="37.6" fill="#665d5b"/><path d="M246.22 806.66Q250.99 820.46 258.11 829.14L252.81 829.96Q255.69 835.78 259.1 838.84L253.41 839.86Q256.44 844.46 259.1 847.32L253.79 848.75Q257.58 854.68 262.13 858.25L264.02 863.36L255.08 862.85Q259.47 870.51 264.4 874.6L254.7 874.29Q260.23 880.21 265.91 883.79L256.82 884.5Q260.99 889.41 264.78 892.47L255.69 891.96Q259.47 897.58 263.64 900.64L259.1 901.87L256.07 899.83L253.04 902.18L250.01 899.42L246.6 900.85L242.05 900.85L239.02 901.67L237.13 899.11L234.1 901.46L231.07 898.6L226.9 899.42L222.2 898.6Q229.17 893.49 233.49 886.34L223.72 888.9Q230.31 883.28 234.48 874.6L224.63 876.13Q231.82 870 235.99 860.8L227.51 863.36Q230.69 860.29 233.72 855.49L232.81 854.88Q235.99 852.63 237.88 848.55L231.29 849.57Q236.37 845.48 239.63 837.82L233.57 838.54Q238.26 834.76 240.91 827.1L235.61 828.93Q241.67 820.46 246.22 806.66Z" fill="#466b59"/><rect x="335.12" y="924.41" width="4.01" height="33.35" fill="#665d5b"/><path d="M339.58 844.87Q344.42 856.94 351.64 864.54L346.26 865.25Q349.18 870.35 352.64 873.03L346.88 873.92Q349.95 877.95 352.64 880.45L347.26 881.7Q351.1 886.89 355.71 890.01L357.63 894.48L348.57 894.04Q353.02 900.74 358.02 904.32L348.18 904.05Q353.79 909.23 359.55 912.36L350.33 912.99Q354.56 917.28 358.4 919.96L349.18 919.51Q353.02 924.43 357.25 927.11L352.64 928.19L349.57 926.4L346.49 928.45L343.42 926.04L339.96 927.29L335.35 927.29L332.28 928.01L330.36 925.77L327.29 927.83L324.22 925.33L319.99 926.04L315.23 925.33Q322.3 920.86 326.67 914.6L316.76 916.83Q323.45 911.92 327.67 904.32L317.69 905.66Q324.98 900.29 329.21 892.25L320.61 894.48Q323.83 891.8 326.9 887.6L325.98 887.06Q329.21 885.1 331.13 881.52L324.45 882.42Q329.59 878.84 332.9 872.13L326.75 872.76Q331.51 869.45 334.2 862.75L328.82 864.36Q334.97 856.94 339.58 844.87Z" fill="#466b59"/><rect x="193.67" y="940.08" width="3.94" height="60.54" fill="#665d5b"/><path d="M196.3 880.55Q201.05 889.73 208.14 895.51L202.86 896.05Q205.73 899.92 209.12 901.96L203.46 902.64Q206.48 905.7 209.12 907.61L203.84 908.56Q207.61 912.5 212.13 914.88L214.02 918.28L205.12 917.94Q209.5 923.04 214.4 925.76L204.75 925.56Q210.25 929.5 215.9 931.88L206.86 932.36Q211 935.62 214.77 937.66L205.73 937.32Q209.5 941.06 213.64 943.1L209.12 943.92L206.1 942.56L203.09 944.12L200.07 942.28L196.68 943.24L192.15 943.24L189.14 943.78L187.25 942.08L184.24 943.64L181.22 941.74L177.07 942.28L172.4 941.74Q179.34 938.34 183.63 933.58L173.91 935.28Q180.47 931.54 184.61 925.76L174.81 926.78Q181.97 922.7 186.12 916.58L177.68 918.28Q180.84 916.24 183.86 913.05L182.95 912.64Q186.12 911.14 188.01 908.42L181.45 909.1Q186.5 906.38 189.74 901.28L183.71 901.76Q188.38 899.24 191.02 894.15L185.74 895.37Q191.78 889.73 196.3 880.55Z" fill="#466b59"/><rect x="293.91" y="995.67" width="3.9" height="65.49" fill="#665d5b"/><path d="M298.36 932.8Q303.06 942.46 310.08 948.54L304.85 949.12Q307.69 953.19 311.05 955.34L305.45 956.06Q308.44 959.28 311.05 961.28L305.82 962.28Q309.56 966.43 314.04 968.94L315.91 972.52L307.09 972.16Q311.43 977.53 316.28 980.39L306.72 980.17Q312.17 984.32 317.78 986.83L308.81 987.33Q312.92 990.76 316.66 992.91L307.69 992.55Q311.43 996.49 315.53 998.64L311.05 999.49L308.07 998.06L305.08 999.71L302.09 997.78L298.73 998.78L294.25 998.78L291.26 999.35L289.39 997.56L286.41 999.21L283.42 997.2L279.31 997.78L274.68 997.2Q281.55 993.63 285.81 988.62L276.17 990.41Q282.67 986.47 286.78 980.39L277.07 981.46Q284.16 977.17 288.27 970.73L279.91 972.52Q283.04 970.37 286.03 967.01L285.14 966.58Q288.27 965 290.14 962.14L283.64 962.86Q288.65 959.99 291.86 954.63L285.88 955.13Q290.51 952.48 293.13 947.11L287.9 948.4Q293.87 942.46 298.36 932.8Z" fill="#466b59"/><rect x="335.89" y="1042.76" width="3.91" height="47" fill="#665d5b"/><path d="M340.29 983.94Q345.01 993.02 352.05 998.73L346.81 999.27Q349.65 1003.1 353.02 1005.12L347.41 1005.79Q350.4 1008.82 353.02 1010.7L347.78 1011.64Q351.52 1015.54 356.02 1017.9L357.89 1021.26L349.05 1020.92Q353.39 1025.96 358.26 1028.65L348.68 1028.45Q354.14 1032.35 359.76 1034.7L350.77 1035.18Q354.89 1038.4 358.64 1040.42L349.65 1040.08Q353.39 1043.78 357.51 1045.8L353.02 1046.61L350.03 1045.26L347.03 1046.81L344.04 1044.99L340.67 1045.93L336.18 1045.93L333.18 1046.47L331.31 1044.79L328.31 1046.34L325.32 1044.45L321.2 1044.99L316.56 1044.45Q323.45 1041.09 327.71 1036.39L318.06 1038.07Q324.57 1034.37 328.69 1028.65L318.96 1029.66Q326.07 1025.63 330.19 1019.58L321.8 1021.26Q324.94 1019.24 327.94 1016.08L327.04 1015.68Q330.19 1014.2 332.06 1011.51L325.54 1012.18Q330.56 1009.49 333.78 1004.45L327.79 1004.92Q332.43 1002.43 335.05 997.39L329.81 998.6Q335.8 993.02 340.29 983.94Z" fill="#466b59"/><rect x="165.28" y="1019.42" width="3.9" height="48.61" fill="#665d5b"/><path d="M169.73 973.03Q174.44 980.31 181.46 984.89L176.23 985.32Q179.07 988.4 182.43 990.02L176.83 990.56Q179.81 992.98 182.43 994.49L177.2 995.25Q180.93 998.38 185.42 1000.27L187.28 1002.96L178.47 1002.69Q182.8 1006.74 187.66 1008.9L178.1 1008.73Q183.55 1011.86 189.15 1013.75L180.19 1014.13Q184.3 1016.72 188.03 1018.34L179.07 1018.07Q182.8 1021.03 186.91 1022.65L182.43 1023.3L179.44 1022.22L176.45 1023.46L173.47 1022L170.1 1022.76L165.62 1022.76L162.64 1023.19L160.77 1021.84L157.78 1023.08L154.79 1021.57L150.68 1022L146.05 1021.57Q152.93 1018.88 157.18 1015.1L147.55 1016.45Q154.05 1013.48 158.15 1008.9L148.44 1009.71Q155.54 1006.47 159.65 1001.61L151.28 1002.96Q154.42 1001.34 157.41 998.81L156.51 998.49Q159.65 997.3 161.51 995.14L155.02 995.68Q160.02 993.52 163.23 989.48L157.26 989.86Q161.89 987.86 164.5 983.81L159.27 984.78Q165.25 980.31 169.73 973.03Z" fill="#466b59"/><rect x="119.59" y="1068.44" width="4.73" height="41.34" fill="#665d5b"/><path d="M124.42 996.47Q130.13 1007.45 138.65 1014.36L132.31 1015.01Q135.75 1019.64 139.83 1022.08L133.03 1022.89Q136.66 1026.55 139.83 1028.83L133.49 1029.97Q138.02 1034.68 143.46 1037.52L145.72 1041.59L135.03 1041.18Q140.28 1047.28 146.18 1050.53L134.57 1050.29Q141.19 1055 147.99 1057.85L137.11 1058.42Q142.1 1062.32 146.63 1064.76L135.75 1064.35Q140.28 1068.82 145.27 1071.26L139.83 1072.24L136.2 1070.61L132.58 1072.48L128.95 1070.28L124.87 1071.42L119.43 1071.42L115.81 1072.07L113.54 1070.04L109.91 1071.91L106.29 1069.63L101.3 1070.28L95.68 1069.63Q104.02 1065.57 109.19 1059.88L97.49 1061.91Q105.38 1057.44 110.37 1050.53L98.58 1051.75Q107.19 1046.87 112.18 1039.56L102.03 1041.59Q105.83 1039.15 109.46 1035.33L108.37 1034.84Q112.18 1033.05 114.45 1029.8L106.56 1030.62Q112.63 1027.36 116.53 1021.27L109.28 1021.84Q114.9 1018.83 118.07 1012.73L111.73 1014.2Q118.98 1007.45 124.42 996.47Z" fill="#466b59"/><path d="M248.9 1039L226.5 1072.8" stroke="#665d5b" stroke-width="4.3" fill="none" stroke-linecap="butt"/><rect x="257.96" y="1066.21" width="3.96" height="61.15" fill="#665d5b"/><path d="M262.33 994.45Q267.11 1005.4 274.25 1012.29L268.93 1012.94Q271.82 1017.56 275.24 1019.99L269.54 1020.8Q272.58 1024.45 275.24 1026.72L269.92 1027.85Q273.72 1032.56 278.27 1035.39L280.17 1039.45L271.21 1039.04Q275.61 1045.12 280.55 1048.37L270.83 1048.12Q276.37 1052.82 282.07 1055.66L272.96 1056.23Q277.13 1060.12 280.93 1062.55L271.82 1062.15Q275.61 1066.61 279.79 1069.04L275.24 1070.01L272.2 1068.39L269.16 1070.26L266.12 1068.07L262.71 1069.2L258.15 1069.2L255.11 1069.85L253.21 1067.82L250.18 1069.69L247.14 1067.42L242.96 1068.07L238.26 1067.42Q245.24 1063.36 249.57 1057.69L239.77 1059.72Q246.38 1055.26 250.56 1048.37L240.69 1049.58Q247.9 1044.72 252.08 1037.42L243.57 1039.45Q246.76 1037.02 249.8 1033.21L248.89 1032.72Q252.08 1030.94 253.97 1027.69L247.37 1028.5Q252.46 1025.26 255.72 1019.18L249.65 1019.75Q254.35 1016.75 257.01 1010.67L251.7 1012.13Q257.77 1005.4 262.33 994.45Z" fill="#466b59"/><rect x="43.02" y="1224.08" width="3.95" height="37.09" fill="#665d5b"/><rect x="42.31" y="1247.43" width="5.35" height="7.68" fill="#111"/><path d="M47.25 1132.41Q52.02 1146.23 59.12 1154.93L53.83 1155.75Q56.7 1161.59 60.1 1164.66L54.43 1165.68Q57.46 1170.29 60.1 1173.16L54.81 1174.59Q58.59 1180.53 63.13 1184.11L65.02 1189.23L56.1 1188.72Q60.48 1196.39 65.39 1200.49L55.72 1200.18Q61.24 1206.12 66.91 1209.7L57.84 1210.42Q61.99 1215.33 65.77 1218.4L56.7 1217.89Q60.48 1223.52 64.64 1226.59L60.1 1227.82L57.08 1225.77L54.06 1228.13L51.03 1225.36L47.63 1226.8L43.1 1226.8L40.08 1227.61L38.19 1225.06L35.16 1227.41L32.14 1224.54L27.98 1225.36L23.3 1224.54Q30.25 1219.43 34.56 1212.26L24.81 1214.82Q31.38 1209.19 35.54 1200.49L25.72 1202.02Q32.9 1195.88 37.05 1186.67L28.59 1189.23Q31.76 1186.16 34.78 1181.34L33.88 1180.73Q37.05 1178.48 38.94 1174.38L32.37 1175.41Q37.43 1171.31 40.68 1163.64L34.63 1164.35Q39.32 1160.56 41.96 1152.89L36.67 1154.73Q42.72 1146.23 47.25 1132.41Z" fill="#466b59"/><rect x="202.21" y="1220.04" width="3.71" height="52.25" fill="#665d5b"/><rect x="201.4" y="1264.61" width="5.35" height="7.68" fill="#111"/><path d="M206.05 1149.49Q210.53 1160.26 217.22 1167.04L212.24 1167.68Q214.94 1172.23 218.15 1174.62L212.81 1175.42Q215.66 1179.01 218.15 1181.24L213.17 1182.36Q216.72 1186.99 220.99 1189.78L222.77 1193.77L214.37 1193.37Q218.5 1199.35 223.13 1202.54L214.02 1202.31Q219.21 1206.93 224.55 1209.72L216.01 1210.28Q219.92 1214.11 223.48 1216.51L214.94 1216.11Q218.5 1220.49 222.41 1222.89L218.15 1223.84L215.3 1222.25L212.45 1224.08L209.61 1221.93L206.41 1223.05L202.14 1223.05L199.29 1223.69L197.51 1221.69L194.67 1223.53L191.82 1221.29L187.91 1221.93L183.5 1221.29Q190.04 1217.3 194.1 1211.72L184.92 1213.71Q191.11 1209.33 195.02 1202.54L185.78 1203.74Q192.53 1198.95 196.45 1191.78L188.48 1193.77Q191.47 1191.38 194.31 1187.63L193.46 1187.15Q196.45 1185.39 198.23 1182.2L192.04 1183Q196.8 1179.81 199.86 1173.83L194.17 1174.38Q198.58 1171.43 201.07 1165.45L196.09 1166.89Q201.78 1160.26 206.05 1149.49Z" fill="#466b59"/><path d="M306.15 852.85C305.26 855.11 303.03 860.1 300.8 866.4C298.57 872.7 295.94 881.98 292.77 890.65C289.6 899.33 285.57 909.18 281.76 918.45C277.95 927.71 274.06 937.4 269.93 946.24C265.79 955.09 261.23 963.93 256.96 971.51C252.69 979.09 249.14 984.14 244.3 991.72C239.47 999.3 233.53 1008.57 227.94 1016.99C222.35 1025.41 216.92 1033.84 210.76 1042.26C204.6 1050.68 197.73 1059.1 191 1067.53C184.28 1075.95 177.4 1084.37 170.42 1092.79C163.44 1101.22 155.81 1110.41 149.12 1118.06C142.43 1125.71 133.43 1135.24 130.29 1138.68" fill="none" stroke="#454548" stroke-width="1.35"/><path d="M306.56 852.85C305.94 855.11 304.6 860.1 302.85 866.4C301.11 872.7 298.93 881.98 296.06 890.65C293.2 899.33 289.34 909.18 285.67 918.45C282 927.71 278.12 937.4 274.04 946.24C269.96 955.09 265.38 963.93 261.18 971.51C256.98 979.09 253.51 984.14 248.83 991.72C244.15 999.3 238.51 1008.57 233.09 1016.99C227.67 1025.41 222.37 1033.84 216.32 1042.26C210.26 1050.68 203.44 1059.1 196.77 1067.53C190.09 1075.95 183.3 1084.37 176.29 1092.79C169.27 1101.22 161.45 1110.06 154.68 1118.06C147.9 1126.06 138.82 1137.01 135.64 1140.8" fill="none" stroke="#454548" stroke-width="1.35"/><path d="M272.5 837.09L306.35 852.45L366.14 823.24" fill="none" stroke="#454548" stroke-width="1.25"/><circle cx="306.35" cy="852.45" r="2.4" fill="#111"/><path d="M44.78 1250.97L126.07 1140.5M135.13 1140.7L203.97 1267.44" fill="none" stroke="#38383a" stroke-width="1.4"/><path d="M69.48 1176.28L76.89 1176.28L102.61 1196.49L99.73 1200.53L75.45 1181.33L74.31 1203.57L72.67 1203.57L69.68 1179.71Z" fill="#6f7474"/><path d="M69.48 1209.63L70.71 1203.77L74.21 1203.77L75.24 1209.63Z" fill="#e0392c"/><path d="M69.48 1209.43L75.24 1209.43L74.62 1213.27L70.3 1213.27Z" fill="#a9afaf"/><path d="M76.06 1210.64L82.85 1211.45" stroke="#8a9090" stroke-width="1.5"/><rect x="96.44" y="1198.92" width="12.66" height="18.39" fill="#e3873a"/><rect x="98.39" y="1200.84" width="8.44" height="9.6" fill="#d9dcdb"/><rect x="97.47" y="1212.06" width="9.67" height="1.62" fill="#71a56c"/><rect x="97.47" y="1213.67" width="9.67" height="1.41" fill="#5a78b6"/><rect x="97.47" y="1215.09" width="9.67" height="1.41" fill="#e8c24a"/><rect x="101.38" y="1221.15" width="3.5" height="9.5" fill="#6b6f70"/><rect x="100.35" y="1229.24" width="5.56" height="1.62" fill="#6b6f70"/><rect x="91.91" y="1217.82" width="72.44" height="6.06" fill="#cdd1d0"/><rect x="99.73" y="1217.31" width="6.17" height="4.65" fill="#6b6f70"/><rect x="154.47" y="1205.18" width="5.97" height="13.34" fill="#d3d6d5"/><path d="M163.63 1223.98L163.63 1207.21L174.23 1207.21L178.55 1215.49L178.55 1223.98Z" fill="#5868b8"/><path d="M165.38 1209.23L170.73 1209.23L170.73 1213.88L165.38 1213.88Z" fill="#eef0f4"/><ellipse cx="115.83" cy="1226.91" rx="5.45" ry="5.36" fill="#55585b"/><ellipse cx="115.83" cy="1226.91" rx="2.78" ry="2.73" fill="#d0d3d3"/><ellipse cx="128.23" cy="1226.91" rx="5.45" ry="5.36" fill="#55585b"/><ellipse cx="128.23" cy="1226.91" rx="2.78" ry="2.73" fill="#d0d3d3"/><ellipse cx="165.59" cy="1226.91" rx="5.45" ry="5.36" fill="#55585b"/><ellipse cx="165.59" cy="1226.91" rx="2.78" ry="2.73" fill="#d0d3d3"/><rect x="128.95" y="1140.3" width="3.5" height="67.72" fill="#e8832f"/><path d="M125.87 1139.49L135.33 1139.49L132.86 1145.96L128.54 1145.96Z" fill="#e8832f"/><rect x="128.34" y="1147.88" width="4.73" height="2.22" fill="#e8832f"/><rect x="128.34" y="1167.08" width="4.73" height="2.22" fill="#e8832f"/><rect x="128.34" y="1193.86" width="4.73" height="2.22" fill="#e8832f"/><rect x="126.28" y="1194.87" width="3.7" height="10.11" fill="#e8832f"/><path d="M119.49 1209.63L122.16 1206.19L126.9 1205.39L134.1 1205.39L138.63 1206.6L140.48 1210.24L139.24 1214.48L135.33 1217.72L129.98 1218.53L124.43 1217.72L120.72 1214.48Z" fill="#e8832f"/><circle cx="130.29" cy="1138.78" r="1.7" fill="#111"/><path d="M262.4 966C267.89 971.46 253.61 990.73 244.4 993" fill="none" stroke="#e8832f" stroke-width="3.4" stroke-linecap="butt"/><path d="M264.34 964.17L260.57 969.83" stroke="#e8832f" stroke-width="3.2" stroke-linecap="butt"/><path d="M243.46 995.5L247.23 989.84" stroke="#e8832f" stroke-width="3.2" stroke-linecap="butt"/><polygon points="228,1071.5 223,1069 218,1065 212,1064.5 216,1072 208,1068.5 212,1076 204,1073.5 209,1082 201,1079.5 205,1088 197.5,1086 200,1093 195.5,1097.5 197,1104 210,1109.5 220,1107 217,1104.2 228,1100 223.5,1098 235.5,1093.5 229,1091.5 241.5,1087.5 233,1085.5 246,1082 237,1079 233,1075" fill="#466b59"/><polygon points="228.6,991.9 230.85,971.09 237.64,975.68 253.17,952.7 255.83,954.5 240.29,977.47 247.08,982.06" fill="#e2492f"/><rect x="0" y="1265.6" width="400" height="10" fill="#fff"/><path d="M429.19 1225.91Q483.32 1229.74 534.87 1229.74 Q591.57 1229.74 615.8 1228.53 L646.73 1223.89" fill="none" stroke="#707072" stroke-width="1.7"/><rect x="670.66" y="807.41" width="3.91" height="37.39" fill="#665d5b"/><rect x="669.93" y="832.71" width="5.36" height="8.06" fill="#111"/><path d="M674.7 716.52Q679.42 730.22 686.45 738.85L681.21 739.66Q684.06 745.45 687.42 748.5L681.81 749.51Q684.8 754.08 687.42 756.92L682.19 758.35Q685.93 764.23 690.42 767.79L692.29 772.86L683.46 772.36Q687.8 779.97 692.66 784.03L683.08 783.73Q688.55 789.61 694.16 793.17L685.18 793.88Q689.3 798.75 693.04 801.8L684.06 801.29Q687.8 806.87 691.91 809.92L687.42 811.14L684.43 809.11L681.44 811.44L678.44 808.7L675.08 810.12L670.59 810.12L667.59 810.94L665.72 808.4L662.73 810.73L659.73 807.89L655.62 808.7L650.98 807.89Q657.86 802.81 662.13 795.71L652.48 798.24Q658.99 792.66 663.1 784.03L653.37 785.55Q660.48 779.46 664.6 770.33L656.22 772.86Q659.36 769.82 662.35 765.05L661.46 764.44Q664.6 762.2 666.47 758.14L659.96 759.16Q664.97 755.1 668.19 747.48L662.2 748.19Q666.84 744.44 669.46 736.82L664.22 738.65Q670.21 730.22 674.7 716.52Z" fill="#466b59"/><rect x="767.74" y="786.75" width="4.82" height="45.95" fill="#665d5b"/><rect x="767.46" y="819.61" width="5.36" height="6.65" fill="#111"/><path d="M772.45 707.25Q778.26 719.31 786.93 726.9L780.47 727.62Q783.98 732.71 788.13 735.39L781.21 736.28Q784.9 740.3 788.13 742.81L781.67 744.06Q786.29 749.24 791.82 752.37L794.13 756.83L783.24 756.39Q788.59 763.09 794.59 766.66L782.78 766.39Q789.52 771.58 796.43 774.7L785.36 775.33Q790.44 779.62 795.05 782.3L783.98 781.85Q788.59 786.76 793.67 789.44L788.13 790.52L784.44 788.73L780.75 790.78L777.06 788.37L772.91 789.62L767.37 789.62L763.68 790.34L761.38 788.1L757.69 790.16L754 787.66L748.92 788.37L743.2 787.66Q751.69 783.19 756.95 776.94L745.05 779.17Q753.07 774.26 758.15 766.66L746.15 768Q754.92 762.64 759.99 754.6L749.66 756.83Q753.54 754.15 757.23 749.95L756.12 749.42Q759.99 747.45 762.3 743.88L754.27 744.77Q760.45 741.2 764.42 734.5L757.04 735.12Q762.76 731.82 765.99 725.12L759.53 726.72Q766.91 719.31 772.45 707.25Z" fill="#466b59"/><rect x="706.41" y="824.04" width="3.95" height="83.24" fill="#665d5b"/><path d="M710.56 746.24Q715.33 758.06 722.44 765.5L717.14 766.2Q720.02 771.19 723.43 773.81L717.75 774.69Q720.78 778.62 723.43 781.07L718.13 782.3Q721.91 787.38 726.46 790.44L728.35 794.81L719.42 794.38Q723.81 800.94 728.73 804.44L719.04 804.18Q724.57 809.25 730.24 812.32L721.16 812.93Q725.32 817.13 729.11 819.76L720.02 819.32Q723.81 824.13 727.97 826.76L723.43 827.81L720.4 826.06L717.37 828.07L714.34 825.71L710.93 826.93L706.39 826.93L703.36 827.63L701.47 825.44L698.44 827.46L695.41 825.01L691.25 825.71L686.55 825.01Q693.52 820.63 697.83 814.51L688.07 816.69Q694.65 811.88 698.82 804.44L688.97 805.75Q696.17 800.5 700.33 792.63L691.85 794.81Q695.03 792.19 698.06 788.08L697.15 787.55Q700.33 785.63 702.23 782.13L695.64 783Q700.71 779.5 703.97 772.94L697.91 773.55Q702.6 770.31 705.26 763.75L699.95 765.32Q706.01 758.06 710.56 746.24Z" fill="#466b59"/><rect x="643.93" y="897.6" width="3.96" height="37.49" fill="#665d5b"/><path d="M648.24 806.4Q653.02 820.15 660.15 828.81L654.84 829.63Q657.73 835.43 661.14 838.49L655.45 839.5Q658.48 844.09 661.14 846.94L655.83 848.37Q659.62 854.27 664.18 857.84L666.07 862.93L657.12 862.42Q661.52 870.06 666.45 874.13L656.74 873.83Q662.28 879.73 667.97 883.3L658.86 884.01Q663.04 888.9 666.83 891.96L657.73 891.45Q661.52 897.05 665.7 900.1L661.14 901.33L658.1 899.29L655.07 901.63L652.03 898.88L648.62 900.31L644.06 900.31L641.03 901.12L639.13 898.58L636.09 900.92L633.06 898.07L628.88 898.88L624.18 898.07Q631.16 892.97 635.49 885.85L625.69 888.39Q632.3 882.79 636.47 874.13L626.61 875.66Q633.82 869.55 637.99 860.38L629.49 862.93Q632.68 859.87 635.71 855.09L634.8 854.48Q637.99 852.24 639.89 848.16L633.28 849.18Q638.37 845.11 641.63 837.47L635.56 838.18Q640.27 834.41 642.92 826.77L637.61 828.61Q643.68 820.15 648.24 806.4Z" fill="#466b59"/><rect x="737.31" y="923.8" width="4.02" height="33.25" fill="#665d5b"/><path d="M741.78 844.5Q746.63 856.53 753.87 864.1L748.48 864.82Q751.4 869.9 754.87 872.57L749.09 873.46Q752.17 877.47 754.87 879.97L749.48 881.22Q753.33 886.39 757.94 889.51L759.87 893.96L750.79 893.52Q755.25 900.2 760.25 903.77L750.4 903.5Q756.02 908.67 761.79 911.79L752.56 912.41Q756.79 916.69 760.64 919.36L751.4 918.92Q755.25 923.82 759.48 926.5L754.87 927.56L751.79 925.78L748.71 927.83L745.63 925.43L742.17 926.67L737.55 926.67L734.47 927.39L732.54 925.16L729.47 927.21L726.39 924.71L722.15 925.43L717.38 924.71Q724.46 920.26 728.85 914.02L718.92 916.25Q725.62 911.34 729.85 903.77L719.84 905.1Q727.16 899.76 731.39 891.73L722.77 893.96Q726 891.29 729.08 887.1L728.16 886.56Q731.39 884.6 733.31 881.04L726.62 881.93Q731.78 878.36 735.08 871.68L728.93 872.3Q733.7 869.01 736.39 862.32L731.01 863.93Q737.16 856.53 741.78 844.5Z" fill="#466b59"/><rect x="595.58" y="939.42" width="3.94" height="60.36" fill="#665d5b"/><path d="M598.22 880.07Q602.98 889.22 610.08 894.98L604.8 895.52Q607.67 899.39 611.07 901.42L605.4 902.1Q608.42 905.15 611.07 907.05L605.78 908Q609.56 911.93 614.09 914.3L615.98 917.69L607.06 917.35Q611.44 922.44 616.35 925.15L606.68 924.94Q612.2 928.88 617.87 931.25L608.8 931.72Q612.95 934.98 616.73 937.01L607.67 936.67Q611.44 940.4 615.6 942.43L611.07 943.25L608.04 941.89L605.02 943.45L602 941.62L598.6 942.57L594.07 942.57L591.05 943.11L589.16 941.42L586.14 942.98L583.11 941.08L578.96 941.62L574.27 941.08Q581.23 937.69 585.53 932.94L575.79 934.64Q582.36 930.91 586.51 925.15L576.69 926.16Q583.87 922.1 588.02 916L579.56 917.69Q582.74 915.66 585.76 912.47L584.85 912.06Q588.02 910.57 589.91 907.86L583.34 908.54Q588.4 905.83 591.65 900.74L585.61 901.22Q590.29 898.71 592.93 893.63L587.65 894.85Q593.69 889.22 598.22 880.07Z" fill="#466b59"/><rect x="696.02" y="994.84" width="3.91" height="65.3" fill="#665d5b"/><path d="M700.48 932.17Q705.19 941.8 712.23 947.86L706.99 948.43Q709.83 952.5 713.2 954.64L707.59 955.35Q710.58 958.56 713.2 960.56L707.96 961.56Q711.7 965.7 716.19 968.2L718.06 971.76L709.23 971.41Q713.57 976.76 718.44 979.61L708.86 979.4Q714.32 983.54 719.93 986.03L710.95 986.53Q715.07 989.96 718.81 992.1L709.83 991.74Q713.57 995.66 717.69 997.8L713.2 998.66L710.21 997.23L707.21 998.87L704.22 996.95L700.85 997.95L696.36 997.95L693.37 998.52L691.5 996.73L688.5 998.38L685.51 996.38L681.39 996.95L676.75 996.38Q683.64 992.81 687.9 987.82L678.25 989.6Q684.76 985.68 688.88 979.61L679.15 980.68Q686.26 976.4 690.37 969.98L681.99 971.76Q685.14 969.62 688.13 966.27L687.23 965.84Q690.37 964.27 692.25 961.42L685.73 962.13Q690.75 959.28 693.97 953.93L687.98 954.43Q692.62 951.79 695.24 946.43L690 947.72Q695.99 941.8 700.48 932.17Z" fill="#466b59"/><rect x="738.08" y="1041.8" width="3.92" height="46.86" fill="#665d5b"/><path d="M742.5 983.15Q747.22 992.2 754.27 997.9L749.02 998.44Q751.87 1002.26 755.25 1004.27L749.62 1004.94Q752.62 1007.96 755.25 1009.84L750 1010.77Q753.75 1014.66 758.25 1017.01L760.12 1020.36L751.27 1020.02Q755.62 1025.05 760.5 1027.73L750.9 1027.53Q756.37 1031.42 762 1033.77L753 1034.24Q757.12 1037.45 760.87 1039.47L751.87 1039.13Q755.62 1042.82 759.75 1044.83L755.25 1045.63L752.25 1044.29L749.25 1045.83L746.25 1044.02L742.87 1044.96L738.37 1044.96L735.37 1045.5L733.49 1043.82L730.49 1045.36L727.49 1043.49L723.37 1044.02L718.72 1043.49Q725.62 1040.14 729.89 1035.44L720.22 1037.12Q726.74 1033.43 730.87 1027.73L721.12 1028.74Q728.24 1024.72 732.37 1018.68L723.97 1020.36Q727.12 1018.35 730.12 1015.2L729.22 1014.8Q732.37 1013.32 734.24 1010.64L727.72 1011.31Q732.74 1008.63 735.97 1003.6L729.97 1004.07Q734.62 1001.59 737.24 996.56L731.99 997.77Q737.99 992.2 742.5 983.15Z" fill="#466b59"/><rect x="567.15" y="1018.52" width="3.91" height="48.47" fill="#665d5b"/><path d="M571.6 972.27Q576.32 979.53 583.35 984.1L578.11 984.53Q580.96 987.6 584.32 989.21L578.71 989.75Q581.7 992.17 584.32 993.68L579.09 994.43Q582.83 997.55 587.32 999.43L589.19 1002.12L580.36 1001.85Q584.7 1005.88 589.56 1008.04L579.98 1007.87Q585.45 1010.99 591.06 1012.88L582.08 1013.25Q586.2 1015.83 589.94 1017.45L580.96 1017.18Q584.7 1020.14 588.81 1021.75L584.32 1022.39L581.33 1021.32L578.34 1022.56L575.34 1021.1L571.98 1021.86L567.49 1021.86L564.49 1022.29L562.62 1020.94L559.63 1022.18L556.63 1020.67L552.52 1021.1L547.88 1020.67Q554.76 1017.98 559.03 1014.22L549.38 1015.56Q555.89 1012.61 560 1008.04L550.27 1008.84Q557.38 1005.62 561.5 1000.77L553.12 1002.12Q556.26 1000.51 559.25 997.98L558.36 997.66Q561.5 996.47 563.37 994.32L556.86 994.86Q561.87 992.71 565.09 988.67L559.1 989.05Q563.74 987.06 566.36 983.03L561.12 984Q567.11 979.53 571.6 972.27Z" fill="#466b59"/><rect x="521.36" y="1067.4" width="4.74" height="41.21" fill="#665d5b"/><path d="M526.2 995.65Q531.93 1006.59 540.46 1013.48L534.11 1014.13Q537.56 1018.75 541.64 1021.18L534.83 1021.99Q538.47 1025.64 541.64 1027.91L535.29 1029.04Q539.83 1033.74 545.28 1036.58L547.55 1040.63L536.83 1040.23Q542.1 1046.3 548 1049.55L536.38 1049.3Q543.01 1054 549.82 1056.84L538.92 1057.41Q543.92 1061.3 548.46 1063.73L537.56 1063.32Q542.1 1067.78 547.09 1070.21L541.64 1071.19L538.01 1069.57L534.38 1071.43L530.74 1069.24L526.66 1070.38L521.21 1070.38L517.57 1071.02L515.3 1069L511.67 1070.86L508.04 1068.59L503.04 1069.24L497.41 1068.59Q505.76 1064.54 510.94 1058.87L499.22 1060.89Q507.13 1056.44 512.12 1049.55L500.31 1050.76Q508.94 1045.9 513.94 1038.61L503.77 1040.63Q507.58 1038.2 511.21 1034.39L510.12 1033.9Q513.94 1032.12 516.21 1028.88L508.31 1029.69Q514.39 1026.45 518.3 1020.37L511.03 1020.94Q516.66 1017.94 519.84 1011.86L513.49 1013.32Q520.75 1006.59 526.2 995.65Z" fill="#466b59"/><path d="M651.75 1037.5L628.4 1071.4" stroke="#665d5b" stroke-width="4.3" fill="none" stroke-linecap="butt"/><rect x="660.01" y="1065.18" width="3.97" height="60.97" fill="#665d5b"/><path d="M664.38 993.63Q669.17 1004.55 676.32 1011.42L671 1012.06Q673.89 1016.67 677.31 1019.1L671.61 1019.91Q674.65 1023.54 677.31 1025.81L671.99 1026.94Q675.79 1031.63 680.35 1034.45L682.26 1038.5L673.28 1038.09Q677.69 1044.15 682.64 1047.39L672.9 1047.15Q678.45 1051.83 684.16 1054.66L675.03 1055.23Q679.21 1059.11 683.02 1061.53L673.89 1061.13Q677.69 1065.57 681.88 1068L677.31 1068.97L674.27 1067.35L671.23 1069.21L668.18 1067.03L664.76 1068.16L660.19 1068.16L657.15 1068.81L655.25 1066.79L652.2 1068.65L649.16 1066.38L644.98 1067.03L640.26 1066.38Q647.26 1062.34 651.6 1056.68L641.78 1058.7Q648.4 1054.26 652.59 1047.39L642.69 1048.6Q649.92 1043.75 654.11 1036.48L645.59 1038.5Q648.78 1036.07 651.82 1032.27L650.91 1031.79Q654.11 1030.01 656.01 1026.78L649.39 1027.58Q654.49 1024.35 657.76 1018.29L651.67 1018.85Q656.39 1015.86 659.05 1009.8L653.73 1011.26Q659.81 1004.55 664.38 993.63Z" fill="#466b59"/><rect x="444.64" y="1222.58" width="3.95" height="36.98" fill="#665d5b"/><rect x="443.94" y="1245.86" width="5.36" height="7.66" fill="#111"/><path d="M448.89 1131.19Q453.66 1144.96 460.78 1153.64L455.48 1154.46Q458.35 1160.27 461.76 1163.34L456.08 1164.36Q459.11 1168.95 461.76 1171.81L456.46 1173.24Q460.25 1179.16 464.79 1182.73L466.68 1187.83L457.75 1187.32Q462.14 1194.98 467.06 1199.06L457.37 1198.75Q462.9 1204.67 468.58 1208.24L459.49 1208.96Q463.65 1213.86 467.44 1216.92L458.35 1216.41Q462.14 1222.02 466.3 1225.08L461.76 1226.31L458.73 1224.27L455.7 1226.62L452.67 1223.86L449.27 1225.29L444.72 1225.29L441.69 1226.1L439.8 1223.55L436.77 1225.9L433.74 1223.04L429.58 1223.86L424.88 1223.04Q431.85 1217.94 436.17 1210.8L426.4 1213.35Q432.99 1207.73 437.15 1199.06L427.31 1200.59Q434.5 1194.47 438.67 1185.28L430.18 1187.83Q433.36 1184.77 436.39 1179.97L435.48 1179.36Q438.67 1177.11 440.56 1173.03L433.97 1174.05Q439.04 1169.97 442.3 1162.32L436.24 1163.03Q440.94 1159.25 443.59 1151.6L438.29 1153.44Q444.34 1144.96 448.89 1131.19Z" fill="#466b59"/><rect x="604.15" y="1218.55" width="3.72" height="52.1" fill="#665d5b"/><rect x="603.33" y="1262.99" width="5.36" height="7.66" fill="#111"/><path d="M607.99 1148.22Q612.48 1158.95 619.18 1165.71L614.19 1166.35Q616.9 1170.88 620.11 1173.27L614.76 1174.07Q617.62 1177.65 620.11 1179.87L615.12 1180.99Q618.68 1185.6 622.96 1188.38L624.74 1192.36L616.33 1191.96Q620.47 1197.93 625.1 1201.11L615.98 1200.87Q621.18 1205.48 626.53 1208.27L617.97 1208.82Q621.89 1212.64 625.46 1215.03L616.9 1214.63Q620.47 1219.01 624.39 1221.39L620.11 1222.35L617.26 1220.75L614.41 1222.58L611.56 1220.44L608.35 1221.55L604.07 1221.55L601.22 1222.19L599.44 1220.2L596.59 1222.03L593.74 1219.8L589.82 1220.44L585.4 1219.8Q591.95 1215.82 596.02 1210.26L586.82 1212.24Q593.02 1207.87 596.94 1201.11L587.68 1202.3Q594.45 1197.53 598.37 1190.37L590.39 1192.36Q593.38 1189.97 596.23 1186.24L595.38 1185.76Q598.37 1184.01 600.15 1180.83L593.95 1181.62Q598.73 1178.44 601.79 1172.48L596.09 1173.03Q600.51 1170.09 603 1164.12L598.01 1165.56Q603.72 1158.95 607.99 1148.22Z" fill="#466b59"/><path d="M708.28 852.46C707.39 854.71 705.16 859.68 702.92 865.96C700.69 872.24 698.06 881.49 694.88 890.14C691.7 898.79 687.66 908.62 683.85 917.86C680.03 927.09 676.13 936.75 671.99 945.57C667.85 954.38 663.28 963.2 659 970.76C654.72 978.32 651.17 983.36 646.32 990.91C641.48 998.47 635.53 1007.71 629.93 1016.11C624.33 1024.5 618.88 1032.9 612.71 1041.3C606.54 1049.7 599.65 1058.09 592.92 1066.49C586.18 1074.89 579.29 1083.29 572.3 1091.68C565.3 1100.08 557.66 1109.25 550.95 1116.88C544.25 1124.5 535.23 1134.01 532.09 1137.43" fill="none" stroke="#454548" stroke-width="1.35"/><path d="M708.7 852.46C708.08 854.71 706.77 859.68 704.98 865.96C703.2 872.24 700.9 881.49 697.97 890.14C695.05 898.79 691.17 908.62 687.46 917.86C683.75 927.09 679.81 936.75 675.7 945.57C671.6 954.38 667.03 963.2 662.82 970.76C658.61 978.32 655.19 983.36 650.45 990.91C645.7 998.47 639.89 1007.71 634.36 1016.11C628.83 1024.5 623.45 1032.9 617.25 1041.3C611.04 1049.7 603.93 1058.09 597.14 1066.49C590.35 1074.89 583.43 1083.29 576.52 1091.68C569.61 1100.08 562.21 1108.9 555.7 1116.88C549.18 1124.85 540.49 1135.77 537.45 1139.55" fill="none" stroke="#454548" stroke-width="1.35"/><path d="M674.57 836.74L708.49 852.05L768.39 822.93" fill="none" stroke="#454548" stroke-width="1.25"/><circle cx="708.49" cy="852.05" r="2.4" fill="#111"/><path d="M446.41 1249.39L527.86 1139.25M536.93 1139.45L605.91 1265.81" fill="none" stroke="#38383a" stroke-width="1.4"/><path d="M471.15 1174.92L478.58 1174.92L504.35 1195.07L501.47 1199.1L477.13 1179.96L476 1202.13L474.35 1202.13L471.36 1178.35Z" fill="#6f7474"/><path d="M471.15 1208.17L472.39 1202.33L475.9 1202.33L476.93 1208.17Z" fill="#e0392c"/><path d="M471.15 1207.97L476.93 1207.97L476.31 1211.8L471.98 1211.8Z" fill="#a9afaf"/><path d="M477.75 1209.18L484.56 1209.99" stroke="#8a9090" stroke-width="1.5"/><rect x="498.17" y="1197.49" width="12.68" height="18.34" fill="#e3873a"/><rect x="500.13" y="1199.41" width="8.45" height="9.57" fill="#d9dcdb"/><rect x="499.2" y="1210.59" width="9.69" height="1.61" fill="#71a56c"/><rect x="499.2" y="1212.2" width="9.69" height="1.41" fill="#5a78b6"/><rect x="499.2" y="1213.62" width="9.69" height="1.41" fill="#e8c24a"/><rect x="503.12" y="1219.66" width="3.51" height="9.47" fill="#6b6f70"/><rect x="502.08" y="1227.72" width="5.57" height="1.61" fill="#6b6f70"/><rect x="493.63" y="1216.34" width="72.58" height="6.05" fill="#cdd1d0"/><rect x="501.47" y="1215.83" width="6.19" height="4.64" fill="#6b6f70"/><rect x="556.31" y="1203.74" width="5.98" height="13.3" fill="#d3d6d5"/><path d="M565.49 1222.48L565.49 1205.76L576.11 1205.76L580.44 1214.02L580.44 1222.48Z" fill="#5868b8"/><path d="M567.24 1207.77L572.6 1207.77L572.6 1212.41L567.24 1212.41Z" fill="#eef0f4"/><ellipse cx="517.6" cy="1225.41" rx="5.46" ry="5.34" fill="#55585b"/><ellipse cx="517.6" cy="1225.41" rx="2.78" ry="2.72" fill="#d0d3d3"/><ellipse cx="530.02" cy="1225.41" rx="5.46" ry="5.34" fill="#55585b"/><ellipse cx="530.02" cy="1225.41" rx="2.78" ry="2.72" fill="#d0d3d3"/><ellipse cx="567.45" cy="1225.41" rx="5.46" ry="5.34" fill="#55585b"/><ellipse cx="567.45" cy="1225.41" rx="2.78" ry="2.72" fill="#d0d3d3"/><rect x="530.75" y="1139.05" width="3.51" height="67.52" fill="#e8832f"/><path d="M527.65 1138.24L537.14 1138.24L534.66 1144.69L530.33 1144.69Z" fill="#e8832f"/><rect x="530.13" y="1146.6" width="4.74" height="2.22" fill="#e8832f"/><rect x="530.13" y="1165.75" width="4.74" height="2.22" fill="#e8832f"/><rect x="530.13" y="1192.45" width="4.74" height="2.22" fill="#e8832f"/><rect x="528.07" y="1193.46" width="3.71" height="10.08" fill="#e8832f"/><path d="M521.26 1208.17L523.94 1204.75L528.68 1203.94L535.9 1203.94L540.44 1205.15L542.29 1208.78L541.06 1213.01L537.14 1216.24L531.78 1217.04L526.21 1216.24L522.5 1213.01Z" fill="#e8832f"/><circle cx="532.09" cy="1137.53" r="1.7" fill="#111"/><path d="M576.4 1084.75C581.45 1090.62 565.46 1109.05 556.1 1110.6" fill="none" stroke="#e8832f" stroke-width="3.4" stroke-linecap="butt"/><path d="M578.48 1083.08L574.28 1088.42" stroke="#e8832f" stroke-width="3.2" stroke-linecap="butt"/><path d="M554.97 1113.02L559.17 1107.67" stroke="#e8832f" stroke-width="3.2" stroke-linecap="butt"/><polygon points="630,1070 625,1067.5 620,1063.5 614,1063 618,1070.5 610,1067 614,1074.5 606,1072 611,1080.5 603,1078 607,1086.5 599.5,1084.5 602,1091.5 597.5,1096 599,1102.5 612,1108 622,1105.5 619,1102.7 630,1098.5 625.5,1096.5 637.5,1092 631,1090 643.5,1086 635,1084 648,1080.5 639,1077.5 635,1073.5" fill="#466b59"/><path d="M571.9 1099.4L609 1102.3" stroke="#3b3b3d" stroke-width="1.2" fill="none" stroke-linecap="butt"/><polygon points="538.8,1107.25 543.51,1086.85 549.7,1092.22 568.39,1070.65 570.81,1072.75 552.12,1094.32 558.32,1099.68" fill="#e2492f"/><rect x="400" y="1265.6" width="400" height="10" fill="#fff"/>
<g><text x="23" y="624" textLength="350" lengthAdjust="spacingAndGlyphs">Bergabseilen – Schritt 1: Bäume, von der</text><text x="23" y="648.5" textLength="365" lengthAdjust="spacingAndGlyphs">geräumten Seittrasse weg, schräg talwärts</text><text x="23" y="672.9" textLength="325" lengthAdjust="spacingAndGlyphs">fällen; dann zum Laufwagen beiseilen</text><text x="426" y="624" textLength="359" lengthAdjust="spacingAndGlyphs">Schritt 2: Laufwagen bergwärts bewegen,</text><text x="426" y="648.5" textLength="346" lengthAdjust="spacingAndGlyphs">bis der Baumwipfel in die Seiltrasse «ein-</text><text x="426" y="672.9" textLength="91.5" lengthAdjust="spacingAndGlyphs">schwenkt»</text><text x="23" y="1290.6" textLength="318" lengthAdjust="spacingAndGlyphs">Schritt 3: Der Baum liegt nun parallel</text><text x="23" y="1315.4" textLength="352" lengthAdjust="spacingAndGlyphs">zur Seiltrasse. Choker über Funk öffnen,</text><text x="23" y="1340.1" textLength="253.5" lengthAdjust="spacingAndGlyphs">Laufwagen talwärts bewegen.</text><text x="426" y="1290.6" textLength="360" lengthAdjust="spacingAndGlyphs">Schritt 4: Baum wipfelseitig wieder an das</text><text x="426" y="1315.4" textLength="348" lengthAdjust="spacingAndGlyphs">ausgespulte Seil des Laufwagens anhän-</text><text x="426" y="1340.1" textLength="358" lengthAdjust="spacingAndGlyphs">gen und per Zielautomatik talwärts seilen</text></g>
</svg>
</body>
</html>
